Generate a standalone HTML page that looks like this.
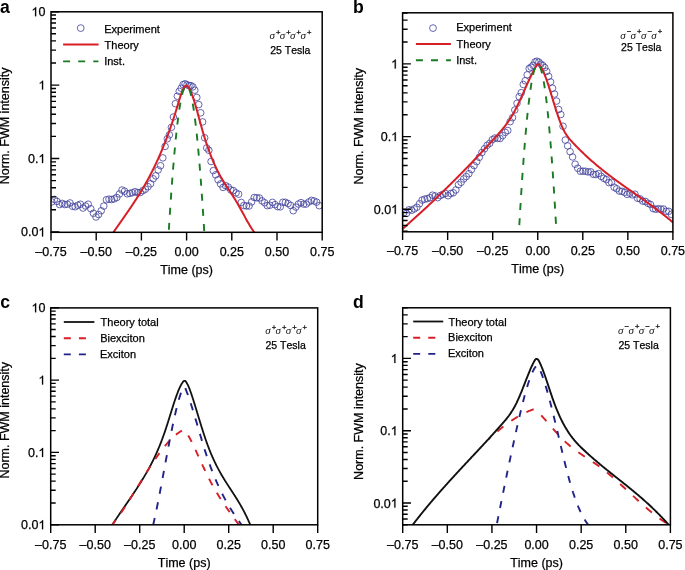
<!DOCTYPE html><html><head><meta charset="utf-8"><style>
html,body{margin:0;padding:0;background:#fff;}svg{display:block;}text{font-kerning:none;}
.t{font-family:"Liberation Sans", sans-serif;font-size:12.5px;fill:#000;stroke:#000;stroke-width:0.25px;}
.lg{font-family:"Liberation Sans", sans-serif;font-size:11px;fill:#000;stroke:#000;stroke-width:0.25px;}
.ts{font-family:"Liberation Sans", sans-serif;font-size:10.5px;fill:#000;stroke:#000;stroke-width:0.25px;}
.pl{font-family:"Liberation Sans", sans-serif;font-size:17.6px;font-weight:bold;fill:#000;}
.sg{font-family:"Liberation Serif", serif;font-style:italic;font-size:11px;fill:#111;}
.sp{font-family:"Liberation Sans", sans-serif;font-size:7.6px;fill:#000;stroke:#000;stroke-width:0.25px;}
</style></head><body>
<svg style="will-change:transform" width="685" height="570" viewBox="0 0 685 570">
<rect width="685" height="570" fill="#fff"/>
<defs>
<clipPath id="cla"><rect x="51" y="11.8" width="271.2" height="220.5"/></clipPath>
<clipPath id="clb"><rect x="402.6" y="12.8" width="270.3" height="219"/></clipPath>
<clipPath id="clc"><rect x="50.7" y="307.9" width="267" height="216.9"/></clipPath>
<clipPath id="cld"><rect x="402.7" y="307.8" width="267.7" height="217"/></clipPath>
<clipPath id="cldr"><rect x="489" y="300" width="200" height="230"/></clipPath>
</defs>
<g clip-path="url(#cla)">
<g fill="none" stroke="#40409a" stroke-width="0.8"><circle cx="51.8" cy="201.9" r="3.3"/><circle cx="54.4" cy="199.41" r="3.3"/><circle cx="57" cy="201.38" r="3.3"/><circle cx="59.6" cy="204.57" r="3.3"/><circle cx="62.2" cy="203.37" r="3.3"/><circle cx="64.8" cy="204.53" r="3.3"/><circle cx="67.4" cy="204.27" r="3.3"/><circle cx="70" cy="202.95" r="3.3"/><circle cx="72.6" cy="206.3" r="3.3"/><circle cx="75.2" cy="206.79" r="3.3"/><circle cx="77.8" cy="205.23" r="3.3"/><circle cx="80.4" cy="204.2" r="3.3"/><circle cx="83" cy="208.02" r="3.3"/><circle cx="85.6" cy="206.01" r="3.3"/><circle cx="88.2" cy="204.19" r="3.3"/><circle cx="90.8" cy="208.74" r="3.3"/><circle cx="93.4" cy="213.24" r="3.3"/><circle cx="96" cy="217" r="3.3"/><circle cx="98.6" cy="214.53" r="3.3"/><circle cx="101.2" cy="210.78" r="3.3"/><circle cx="103.8" cy="206.09" r="3.3"/><circle cx="106.4" cy="199.77" r="3.3"/><circle cx="109" cy="199.14" r="3.3"/><circle cx="111.6" cy="199.54" r="3.3"/><circle cx="114.2" cy="198.88" r="3.3"/><circle cx="116.8" cy="197.52" r="3.3"/><circle cx="119.4" cy="194" r="3.3"/><circle cx="122" cy="190.02" r="3.3"/><circle cx="124.6" cy="191.18" r="3.3"/><circle cx="127.2" cy="193.8" r="3.3"/><circle cx="129.8" cy="193.37" r="3.3"/><circle cx="132.4" cy="192.74" r="3.3"/><circle cx="135" cy="191.71" r="3.3"/><circle cx="137.6" cy="192.57" r="3.3"/><circle cx="140.2" cy="192.57" r="3.3"/><circle cx="142.8" cy="190.67" r="3.3"/><circle cx="145.4" cy="189.21" r="3.3"/><circle cx="148" cy="186.67" r="3.3"/><circle cx="150.6" cy="183.72" r="3.3"/><circle cx="153.2" cy="178.8" r="3.3"/><circle cx="155.72" cy="175.86" r="3.3"/><circle cx="158.17" cy="169.95" r="3.3"/><circle cx="160.55" cy="165.71" r="3.3"/><circle cx="162.85" cy="157.87" r="3.3"/><circle cx="165.09" cy="146.43" r="3.3"/><circle cx="167.26" cy="138.82" r="3.3"/><circle cx="169.37" cy="134.85" r="3.3"/><circle cx="171.42" cy="127.35" r="3.3"/><circle cx="173.4" cy="117.01" r="3.3"/><circle cx="175.35" cy="103.67" r="3.3"/><circle cx="177.3" cy="96.22" r="3.3"/><circle cx="179.25" cy="91.33" r="3.3"/><circle cx="181.2" cy="88.21" r="3.3"/><circle cx="183.15" cy="84.57" r="3.3"/><circle cx="185.1" cy="83.77" r="3.3"/><circle cx="187.05" cy="84.73" r="3.3"/><circle cx="189" cy="85.59" r="3.3"/><circle cx="190.95" cy="85.6" r="3.3"/><circle cx="192.9" cy="86.86" r="3.3"/><circle cx="194.85" cy="90.18" r="3.3"/><circle cx="196.8" cy="97.39" r="3.3"/><circle cx="198.75" cy="104.61" r="3.3"/><circle cx="200.7" cy="112.81" r="3.3"/><circle cx="202.65" cy="121.92" r="3.3"/><circle cx="204.67" cy="137.8" r="3.3"/><circle cx="206.74" cy="147.95" r="3.3"/><circle cx="208.87" cy="150.28" r="3.3"/><circle cx="211.06" cy="161.49" r="3.3"/><circle cx="213.32" cy="170.63" r="3.3"/><circle cx="215.65" cy="174.82" r="3.3"/><circle cx="218.04" cy="179.78" r="3.3"/><circle cx="220.51" cy="183.92" r="3.3"/><circle cx="223.04" cy="187.42" r="3.3"/><circle cx="225.64" cy="185.69" r="3.3"/><circle cx="228.24" cy="187.07" r="3.3"/><circle cx="230.84" cy="189.95" r="3.3"/><circle cx="233.44" cy="190.61" r="3.3"/><circle cx="236.04" cy="192.85" r="3.3"/><circle cx="238.64" cy="194.18" r="3.3"/><circle cx="241.24" cy="202.45" r="3.3"/><circle cx="243.84" cy="205.56" r="3.3"/><circle cx="246.44" cy="205.96" r="3.3"/><circle cx="249.04" cy="206" r="3.3"/><circle cx="251.64" cy="201.87" r="3.3"/><circle cx="254.24" cy="197.52" r="3.3"/><circle cx="256.84" cy="197.77" r="3.3"/><circle cx="259.44" cy="198.01" r="3.3"/><circle cx="262.04" cy="200.88" r="3.3"/><circle cx="264.64" cy="202.75" r="3.3"/><circle cx="267.24" cy="205.65" r="3.3"/><circle cx="269.84" cy="205.24" r="3.3"/><circle cx="272.44" cy="202.36" r="3.3"/><circle cx="275.04" cy="204.64" r="3.3"/><circle cx="277.64" cy="206.68" r="3.3"/><circle cx="280.24" cy="206.9" r="3.3"/><circle cx="282.84" cy="202.26" r="3.3"/><circle cx="285.44" cy="202.3" r="3.3"/><circle cx="288.04" cy="203.55" r="3.3"/><circle cx="290.64" cy="205.45" r="3.3"/><circle cx="293.24" cy="210.71" r="3.3"/><circle cx="295.84" cy="207.1" r="3.3"/><circle cx="298.44" cy="204.03" r="3.3"/><circle cx="301.04" cy="202.6" r="3.3"/><circle cx="303.64" cy="204.11" r="3.3"/><circle cx="306.24" cy="204.07" r="3.3"/><circle cx="308.84" cy="201.96" r="3.3"/><circle cx="311.44" cy="200.39" r="3.3"/><circle cx="314.04" cy="200.95" r="3.3"/><circle cx="316.64" cy="202.14" r="3.3"/><circle cx="319.24" cy="205.69" r="3.3"/></g>
<path d="M111.85 234.71 L112.15 234.26 L112.45 233.82 L112.75 233.37 L113.05 232.93 L113.35 232.49 L113.65 232.05 L113.95 231.61 L114.25 231.17 L114.55 230.73 L114.85 230.30 L115.15 229.86 L115.45 229.42 L115.75 228.99 L116.05 228.55 L116.35 228.12 L116.65 227.69 L116.95 227.26 L117.25 226.82 L117.55 226.39 L117.85 225.96 L118.15 225.53 L118.45 225.10 L118.75 224.67 L119.05 224.24 L119.35 223.81 L119.64 223.38 L119.94 222.95 L120.24 222.52 L120.54 222.09 L120.84 221.67 L121.14 221.24 L121.44 220.81 L121.74 220.38 L122.04 219.95 L122.34 219.52 L122.64 219.10 L122.94 218.67 L123.24 218.24 L123.54 217.81 L123.84 217.38 L124.14 216.95 L124.44 216.52 L124.74 216.09 L125.04 215.66 L125.34 215.23 L125.64 214.80 L125.94 214.37 L126.24 213.94 L126.54 213.50 L126.84 213.07 L127.14 212.64 L127.44 212.20 L127.74 211.77 L128.04 211.34 L128.34 210.90 L128.64 210.46 L128.94 210.03 L129.24 209.59 L129.54 209.15 L129.84 208.71 L130.14 208.27 L130.44 207.83 L130.74 207.38 L131.04 206.94 L131.34 206.50 L131.64 206.05 L131.94 205.60 L132.24 205.16 L132.54 204.71 L132.84 204.26 L133.14 203.81 L133.44 203.35 L133.74 202.90 L134.04 202.45 L134.34 201.99 L134.63 201.53 L134.93 201.07 L135.23 200.61 L135.53 200.15 L135.83 199.69 L136.13 199.22 L136.43 198.76 L136.73 198.29 L137.03 197.82 L137.33 197.35 L137.63 196.88 L137.93 196.40 L138.23 195.92 L138.53 195.45 L138.83 194.97 L139.13 194.48 L139.43 194.00 L139.73 193.52 L140.03 193.03 L140.33 192.54 L140.63 192.05 L140.93 191.55 L141.23 191.06 L141.53 190.56 L141.83 190.06 L142.13 189.56 L142.43 189.06 L142.73 188.55 L143.03 188.04 L143.33 187.53 L143.63 187.02 L143.93 186.50 L144.23 185.98 L144.53 185.46 L144.83 184.94 L145.13 184.42 L145.43 183.89 L145.73 183.36 L146.03 182.83 L146.33 182.29 L146.63 181.75 L146.93 181.21 L147.23 180.67 L147.53 180.12 L147.83 179.57 L148.13 179.02 L148.43 178.47 L148.73 177.91 L149.03 177.35 L149.32 176.79 L149.62 176.22 L149.92 175.65 L150.22 175.08 L150.52 174.50 L150.82 173.93 L151.12 173.34 L151.42 172.76 L151.72 172.17 L152.02 171.58 L152.32 170.99 L152.62 170.39 L152.92 169.79 L153.22 169.19 L153.52 168.58 L153.82 167.97 L154.12 167.35 L154.42 166.73 L154.72 166.11 L155.02 165.49 L155.32 164.86 L155.62 164.23 L155.92 163.59 L156.22 162.95 L156.52 162.31 L156.82 161.66 L157.12 161.01 L157.42 160.36 L157.72 159.70 L158.02 159.04 L158.32 158.37 L158.62 157.70 L158.92 157.03 L159.22 156.35 L159.52 155.67 L159.82 154.98 L160.12 154.29 L160.42 153.60 L160.72 152.90 L161.02 152.20 L161.32 151.49 L161.62 150.78 L161.92 150.07 L162.22 149.35 L162.52 148.62 L162.82 147.90 L163.12 147.16 L163.42 146.43 L163.72 145.69 L164.02 144.94 L164.31 144.19 L164.61 143.43 L164.91 142.67 L165.21 141.91 L165.51 141.14 L165.81 140.36 L166.11 139.58 L166.41 138.80 L166.71 138.01 L167.01 137.22 L167.31 136.42 L167.61 135.61 L167.91 134.80 L168.21 133.99 L168.51 133.17 L168.81 132.34 L169.11 131.51 L169.41 130.67 L169.71 129.83 L170.01 128.98 L170.31 128.13 L170.61 127.27 L170.91 126.41 L171.21 125.53 L171.51 124.66 L171.81 123.78 L172.11 122.89 L172.41 121.99 L172.71 121.09 L173.01 120.19 L173.31 119.28 L173.61 118.36 L173.91 117.44 L174.21 116.50 L174.51 115.57 L174.81 114.63 L175.11 113.68 L175.41 112.72 L175.71 111.76 L176.01 110.79 L176.31 109.81 L176.61 108.83 L176.91 107.84 L177.21 106.85 L177.51 105.85 L177.81 104.85 L178.11 103.85 L178.41 102.85 L178.71 101.86 L179.01 100.87 L179.30 99.89 L179.60 98.92 L179.90 97.97 L180.20 97.03 L180.50 96.11 L180.80 95.21 L181.10 94.34 L181.40 93.49 L181.70 92.66 L182.00 91.87 L182.30 91.10 L182.60 90.38 L182.90 89.68 L183.20 89.03 L183.50 88.63 L183.80 88.07 L184.10 87.55 L184.40 87.08 L184.70 86.67 L185.00 86.30 L185.30 86.01 L185.60 85.79 L185.90 85.64 L186.20 85.57 L186.50 85.56 L186.78 85.63 L187.06 85.76 L187.34 85.95 L187.62 86.20 L187.89 86.52 L188.17 86.89 L188.45 87.29 L188.73 87.72 L189.01 88.18 L189.29 88.67 L189.57 89.05 L189.85 89.60 L190.12 90.18 L190.40 90.79 L190.68 91.42 L190.96 92.07 L191.24 92.75 L191.52 93.45 L191.80 94.18 L192.08 94.92 L192.36 95.69 L192.63 96.47 L192.91 97.28 L193.19 98.10 L193.47 98.94 L193.75 99.80 L194.03 100.67 L194.31 101.56 L194.59 102.47 L194.86 103.38 L195.14 104.31 L195.42 105.25 L195.70 106.20 L195.98 107.16 L196.26 108.13 L196.54 109.11 L196.82 110.10 L197.10 111.09 L197.37 112.09 L197.65 113.10 L197.93 114.11 L198.21 115.12 L198.49 116.14 L198.77 117.16 L199.05 118.18 L199.33 119.20 L199.60 120.22 L199.88 121.24 L200.16 122.26 L200.44 123.27 L200.72 124.29 L201.00 125.29 L201.28 126.29 L201.56 127.29 L201.84 128.28 L202.11 129.26 L202.39 130.24 L202.67 131.20 L202.95 132.16 L203.23 133.10 L203.51 134.04 L203.79 134.97 L204.07 135.89 L204.34 136.80 L204.62 137.70 L204.90 138.59 L205.18 139.48 L205.46 140.35 L205.74 141.22 L206.02 142.08 L206.30 142.93 L206.58 143.77 L206.85 144.61 L207.13 145.43 L207.41 146.25 L207.69 147.06 L207.97 147.86 L208.25 148.65 L208.53 149.44 L208.81 150.21 L209.08 150.98 L209.36 151.74 L209.64 152.50 L209.92 153.24 L210.20 153.98 L210.48 154.71 L210.76 155.43 L211.04 156.15 L211.32 156.85 L211.59 157.55 L211.87 158.25 L212.15 158.93 L212.43 159.61 L212.71 160.28 L212.99 160.94 L213.27 161.60 L213.55 162.25 L213.82 162.89 L214.10 163.53 L214.38 164.16 L214.66 164.78 L214.94 165.39 L215.22 166.00 L215.50 166.60 L215.78 167.20 L216.06 167.79 L216.33 168.37 L216.61 168.94 L216.89 169.51 L217.17 170.08 L217.45 170.63 L217.73 171.18 L218.01 171.73 L218.29 172.27 L218.56 172.80 L218.84 173.33 L219.12 173.85 L219.40 174.37 L219.68 174.88 L219.96 175.39 L220.24 175.89 L220.52 176.39 L220.79 176.88 L221.07 177.37 L221.35 177.86 L221.63 178.34 L221.91 178.81 L222.19 179.29 L222.47 179.76 L222.75 180.22 L223.03 180.69 L223.30 181.14 L223.58 181.60 L223.86 182.05 L224.14 182.51 L224.42 182.95 L224.70 183.40 L224.98 183.84 L225.26 184.28 L225.53 184.72 L225.81 185.16 L226.09 185.59 L226.37 186.02 L226.65 186.45 L226.93 186.88 L227.21 187.31 L227.49 187.74 L227.77 188.17 L228.04 188.59 L228.32 189.02 L228.60 189.44 L228.88 189.86 L229.16 190.29 L229.44 190.71 L229.72 191.13 L230.00 191.56 L230.27 191.98 L230.55 192.40 L230.83 192.83 L231.11 193.25 L231.39 193.68 L231.67 194.10 L231.95 194.53 L232.23 194.96 L232.51 195.39 L232.78 195.82 L233.06 196.25 L233.34 196.69 L233.62 197.12 L233.90 197.56 L234.18 198.00 L234.46 198.44 L234.74 198.89 L235.01 199.34 L235.29 199.79 L235.57 200.24 L235.85 200.69 L236.13 201.15 L236.41 201.62 L236.69 202.08 L236.97 202.55 L237.25 203.02 L237.52 203.50 L237.80 203.98 L238.08 204.46 L238.36 204.95 L238.64 205.44 L238.92 205.93 L239.20 206.43 L239.48 206.93 L239.75 207.43 L240.03 207.93 L240.31 208.43 L240.59 208.94 L240.87 209.45 L241.15 209.95 L241.43 210.46 L241.71 210.98 L241.99 211.49 L242.26 212.00 L242.54 212.51 L242.82 213.03 L243.10 213.54 L243.38 214.06 L243.66 214.57 L243.94 215.08 L244.22 215.60 L244.49 216.11 L244.77 216.62 L245.05 217.13 L245.33 217.64 L245.61 218.15 L245.89 218.66 L246.17 219.16 L246.45 219.66 L246.73 220.17 L247.00 220.66 L247.28 221.16 L247.56 221.65 L247.84 222.14 L248.12 222.63 L248.40 223.12 L248.68 223.60 L248.96 224.07 L249.23 224.55 L249.51 225.02 L249.79 225.49 L250.07 225.95 L250.35 226.40 L250.63 226.86 L250.91 227.31 L251.19 227.75 L251.47 228.19 L251.74 228.62 L252.02 229.05 L252.30 229.47 L252.58 229.89 L252.86 230.30 L253.14 230.70 L253.42 231.10 L253.70 231.49 L253.97 231.87 L254.25 232.25 L254.53 232.62 L254.81 232.99 L255.09 233.34 L255.37 233.69 L255.65 234.03 L255.93 234.36" fill="none" stroke="#d61f26" stroke-width="2"/>
<path d="M168.3 238.96C168.45 236.47 168.91 228.87 169.21 224.01C169.51 219.15 169.82 214.43 170.12 209.82C170.42 205.22 170.73 200.75 171.03 196.41C171.33 192.06 171.64 187.84 171.94 183.75C172.24 179.66 172.55 175.7 172.85 171.87C173.15 168.03 173.46 164.33 173.76 160.75C174.06 157.17 174.37 153.72 174.67 150.4C174.97 147.07 175.28 143.88 175.58 140.81C175.88 137.74 176.19 134.8 176.49 131.99C176.79 129.18 177.1 126.5 177.4 123.94C177.7 121.38 178.01 118.96 178.31 116.66C178.61 114.36 178.92 112.18 179.22 110.14C179.52 108.09 179.83 106.18 180.13 104.39C180.43 102.6 180.74 100.94 181.04 99.4C181.34 97.87 181.65 96.46 181.95 95.19C182.25 93.91 182.56 92.76 182.86 91.73C183.16 90.71 183.47 89.82 183.77 89.05C184.07 88.28 184.38 87.64 184.68 87.13C184.98 86.62 185.29 86.24 185.59 85.98C185.89 85.73 186.2 85.6 186.5 85.6C186.8 85.6 187.11 85.73 187.41 85.98C187.71 86.24 188.02 86.62 188.32 87.13C188.62 87.64 188.93 88.28 189.23 89.05C189.53 89.82 189.84 90.71 190.14 91.73C190.44 92.76 190.75 93.91 191.05 95.19C191.35 96.46 191.66 97.87 191.96 99.4C192.26 100.94 192.57 102.6 192.87 104.39C193.17 106.18 193.48 108.09 193.78 110.14C194.08 112.18 194.39 114.36 194.69 116.66C194.99 118.96 195.3 121.38 195.6 123.94C195.9 126.5 196.21 129.18 196.51 131.99C196.81 134.8 197.12 137.74 197.42 140.81C197.72 143.88 198.03 147.07 198.33 150.4C198.63 153.72 198.94 157.17 199.24 160.75C199.54 164.33 199.85 168.03 200.15 171.87C200.45 175.7 200.76 179.66 201.06 183.75C201.36 187.84 201.67 192.06 201.97 196.41C202.27 200.75 202.58 205.22 202.88 209.82C203.18 214.43 203.49 219.15 203.79 224.01C204.09 228.87 204.55 236.47 204.7 238.96" fill="none" stroke="#187a22" stroke-width="1.9" stroke-dasharray="7 8.1" stroke-dashoffset="6.0"/>
</g>
<rect x="51" y="11.8" width="271.2" height="220.5" fill="none" stroke="#000" stroke-width="1.5"/>
<path d="M51 231.9H59.3M51 209.8H56M51 196.88H56M51 187.71H56M51 180.6H56M51 174.78H56M51 169.87H56M51 165.61H56M51 161.86H56M51 158.5H59.3M51 136.4H56M51 123.48H56M51 114.31H56M51 107.2H56M51 101.38H56M51 96.47H56M51 92.21H56M51 88.46H56M51 85.1H59.3M51 63H56M51 50.08H56M51 40.91H56M51 33.8H56M51 27.98H56M51 23.07H56M51 18.81H56M51 15.06H56M51 11.7H59.3" stroke="#000" stroke-width="1.4" fill="none"/>
<path d="M51 232.3V240.5M96.2 232.3V240.5M141.4 232.3V240.5M186.6 232.3V240.5M231.8 232.3V240.5M277 232.3V240.5M322.2 232.3V240.5" stroke="#000" stroke-width="1.4" fill="none"/>
<text x="51" y="255.5" text-anchor="middle" class="t">–0.75</text>
<text x="96.2" y="255.5" text-anchor="middle" class="t">–0.50</text>
<text x="141.4" y="255.5" text-anchor="middle" class="t">–0.25</text>
<text x="186.6" y="255.5" text-anchor="middle" class="t">0.00</text>
<text x="231.8" y="255.5" text-anchor="middle" class="t">0.25</text>
<text x="277" y="255.5" text-anchor="middle" class="t">0.50</text>
<text x="322.2" y="255.5" text-anchor="middle" class="t">0.75</text>
<text x="186.6" y="273.8" text-anchor="middle" class="t">Time (ps)</text>
<path d="M0.3726 0L0.2847 0L0.2847 0.5601L0.109 0.4595L0.109 0.5444C0.19 0.585 0.27 0.64 0.3076 0.716L0.3726 0.716Z" transform="translate(31.5 16.2) scale(12.5 -12.5)" fill="#000" stroke="#000" stroke-width="0.02"/>
<text x="38.45" y="16.2" class="t">0</text>
<path d="M0.3726 0L0.2847 0L0.2847 0.5601L0.109 0.4595L0.109 0.5444C0.19 0.585 0.27 0.64 0.3076 0.716L0.3726 0.716Z" transform="translate(38.45 89.6) scale(12.5 -12.5)" fill="#000" stroke="#000" stroke-width="0.02"/>
<text x="28.02" y="163" class="t">0.</text>
<path d="M0.3726 0L0.2847 0L0.2847 0.5601L0.109 0.4595L0.109 0.5444C0.19 0.585 0.27 0.64 0.3076 0.716L0.3726 0.716Z" transform="translate(38.45 163) scale(12.5 -12.5)" fill="#000" stroke="#000" stroke-width="0.02"/>
<text x="21.07" y="236.4" class="t">0.0</text>
<path d="M0.3726 0L0.2847 0L0.2847 0.5601L0.109 0.4595L0.109 0.5444C0.19 0.585 0.27 0.64 0.3076 0.716L0.3726 0.716Z" transform="translate(38.45 236.4) scale(12.5 -12.5)" fill="#000" stroke="#000" stroke-width="0.02"/>
<text transform="translate(9.2 184.2) rotate(-90)" class="t">Norm. FWM intensity</text>
<text x="0" y="13.3" class="pl">a</text>
<circle cx="80.7" cy="28.1" r="3.4" fill="none" stroke="#40409a" stroke-width="0.8"/>
<path d="M63.1 44.4H98.6" stroke="#d61f26" stroke-width="2"/>
<path d="M63.1 61.4H98.4" stroke="#187a22" stroke-width="1.9" stroke-dasharray="7 8.1"/>
<text x="104.2" y="33" class="lg">Experiment</text>
<text x="104.6" y="48.8" class="lg">Theory</text>
<text x="104.2" y="65.4" class="lg">Inst.</text>
<text x="269.5" y="38.8" class="sg">σ</text>
<text x="276" y="34.6" class="sp">+</text>
<text x="279.8" y="38.8" class="sg">σ</text>
<text x="286.3" y="34.6" class="sp">+</text>
<text x="290.1" y="38.8" class="sg">σ</text>
<text x="296.6" y="34.6" class="sp">+</text>
<text x="300.4" y="38.8" class="sg">σ</text>
<text x="306.9" y="34.6" class="sp">+</text>
<text x="270.2" y="54.2" class="ts">25 Tesla</text>
<g clip-path="url(#clb)">
<g fill="none" stroke="#40409a" stroke-width="0.8"><circle cx="403.9" cy="212.4" r="3.3"/><circle cx="406.5" cy="213.41" r="3.3"/><circle cx="409.1" cy="209.77" r="3.3"/><circle cx="411.7" cy="210.27" r="3.3"/><circle cx="414.3" cy="208.95" r="3.3"/><circle cx="416.9" cy="207.22" r="3.3"/><circle cx="419.5" cy="203.73" r="3.3"/><circle cx="422.1" cy="200.06" r="3.3"/><circle cx="424.7" cy="199.14" r="3.3"/><circle cx="427.3" cy="198.68" r="3.3"/><circle cx="429.9" cy="197.67" r="3.3"/><circle cx="432.5" cy="195.17" r="3.3"/><circle cx="435.1" cy="195.98" r="3.3"/><circle cx="437.7" cy="197.64" r="3.3"/><circle cx="440.3" cy="195.57" r="3.3"/><circle cx="442.9" cy="194.35" r="3.3"/><circle cx="445.5" cy="193.46" r="3.3"/><circle cx="448.1" cy="195.71" r="3.3"/><circle cx="450.7" cy="193.5" r="3.3"/><circle cx="453.3" cy="192.78" r="3.3"/><circle cx="455.9" cy="189.92" r="3.3"/><circle cx="458.5" cy="184.68" r="3.3"/><circle cx="461.1" cy="182.33" r="3.3"/><circle cx="463.7" cy="178.94" r="3.3"/><circle cx="466.3" cy="176.55" r="3.3"/><circle cx="468.9" cy="173.7" r="3.3"/><circle cx="471.5" cy="169.53" r="3.3"/><circle cx="474.1" cy="165.61" r="3.3"/><circle cx="476.7" cy="161.67" r="3.3"/><circle cx="479.3" cy="157.33" r="3.3"/><circle cx="481.9" cy="152.52" r="3.3"/><circle cx="484.5" cy="148.77" r="3.3"/><circle cx="487.1" cy="145.34" r="3.3"/><circle cx="489.7" cy="143.33" r="3.3"/><circle cx="492.3" cy="139.68" r="3.3"/><circle cx="494.9" cy="138.04" r="3.3"/><circle cx="497.5" cy="138.41" r="3.3"/><circle cx="500.1" cy="138.51" r="3.3"/><circle cx="502.7" cy="135.62" r="3.3"/><circle cx="505.27" cy="132.41" r="3.3"/><circle cx="507.76" cy="130.49" r="3.3"/><circle cx="510.19" cy="121.66" r="3.3"/><circle cx="512.54" cy="117.68" r="3.3"/><circle cx="514.81" cy="109.99" r="3.3"/><circle cx="517.03" cy="103.29" r="3.3"/><circle cx="519.17" cy="96.67" r="3.3"/><circle cx="521.26" cy="92.7" r="3.3"/><circle cx="523.28" cy="84.46" r="3.3"/><circle cx="525.24" cy="80.75" r="3.3"/><circle cx="527.19" cy="74.86" r="3.3"/><circle cx="529.14" cy="68.51" r="3.3"/><circle cx="531.09" cy="67.18" r="3.3"/><circle cx="533.04" cy="65.29" r="3.3"/><circle cx="534.99" cy="61.92" r="3.3"/><circle cx="536.94" cy="61.24" r="3.3"/><circle cx="538.89" cy="62.14" r="3.3"/><circle cx="540.84" cy="64.14" r="3.3"/><circle cx="542.79" cy="65.51" r="3.3"/><circle cx="544.74" cy="67.56" r="3.3"/><circle cx="546.69" cy="71.39" r="3.3"/><circle cx="548.64" cy="76.4" r="3.3"/><circle cx="550.59" cy="81.93" r="3.3"/><circle cx="552.54" cy="88.24" r="3.3"/><circle cx="554.52" cy="94.04" r="3.3"/><circle cx="556.55" cy="101.05" r="3.3"/><circle cx="558.64" cy="109.49" r="3.3"/><circle cx="560.8" cy="114.55" r="3.3"/><circle cx="563.02" cy="126.23" r="3.3"/><circle cx="565.3" cy="140.06" r="3.3"/><circle cx="567.65" cy="145.87" r="3.3"/><circle cx="570.08" cy="151.71" r="3.3"/><circle cx="572.57" cy="156.96" r="3.3"/><circle cx="575.14" cy="164.19" r="3.3"/><circle cx="577.74" cy="168.22" r="3.3"/><circle cx="580.34" cy="171.24" r="3.3"/><circle cx="582.94" cy="171.14" r="3.3"/><circle cx="585.54" cy="171.26" r="3.3"/><circle cx="588.14" cy="171.97" r="3.3"/><circle cx="590.74" cy="171.8" r="3.3"/><circle cx="593.34" cy="174.37" r="3.3"/><circle cx="595.94" cy="174.51" r="3.3"/><circle cx="598.54" cy="173.56" r="3.3"/><circle cx="601.14" cy="176.31" r="3.3"/><circle cx="603.74" cy="178.28" r="3.3"/><circle cx="606.34" cy="179.59" r="3.3"/><circle cx="608.94" cy="182.65" r="3.3"/><circle cx="611.54" cy="182.38" r="3.3"/><circle cx="614.14" cy="187.2" r="3.3"/><circle cx="616.74" cy="188.76" r="3.3"/><circle cx="619.34" cy="191.08" r="3.3"/><circle cx="621.94" cy="191.3" r="3.3"/><circle cx="624.54" cy="192.35" r="3.3"/><circle cx="627.14" cy="194.38" r="3.3"/><circle cx="629.74" cy="193.22" r="3.3"/><circle cx="632.34" cy="194.87" r="3.3"/><circle cx="634.94" cy="194.17" r="3.3"/><circle cx="637.54" cy="198.25" r="3.3"/><circle cx="640.14" cy="198.85" r="3.3"/><circle cx="642.74" cy="201.11" r="3.3"/><circle cx="645.34" cy="201.43" r="3.3"/><circle cx="647.94" cy="203.29" r="3.3"/><circle cx="650.54" cy="204.47" r="3.3"/><circle cx="653.14" cy="208.55" r="3.3"/><circle cx="655.74" cy="209.3" r="3.3"/><circle cx="658.34" cy="208.69" r="3.3"/><circle cx="660.94" cy="209.14" r="3.3"/><circle cx="663.54" cy="209.02" r="3.3"/><circle cx="666.14" cy="211.22" r="3.3"/><circle cx="668.74" cy="211.3" r="3.3"/><circle cx="671.34" cy="214.37" r="3.3"/></g>
<path d="M400.36 230.85 L400.91 230.37 L401.47 229.88 L402.02 229.40 L402.57 228.92 L403.12 228.43 L403.68 227.95 L404.23 227.46 L404.78 226.97 L405.33 226.49 L405.88 226.00 L406.44 225.51 L406.99 225.02 L407.54 224.53 L408.09 224.04 L408.65 223.55 L409.20 223.06 L409.75 222.56 L410.30 222.07 L410.86 221.58 L411.41 221.08 L411.96 220.58 L412.51 220.09 L413.07 219.59 L413.62 219.09 L414.17 218.60 L414.72 218.10 L415.27 217.60 L415.83 217.10 L416.38 216.59 L416.93 216.09 L417.48 215.59 L418.04 215.09 L418.59 214.58 L419.14 214.08 L419.69 213.57 L420.25 213.07 L420.80 212.56 L421.35 212.05 L421.90 211.54 L422.46 211.03 L423.01 210.52 L423.56 210.01 L424.11 209.50 L424.66 208.99 L425.22 208.48 L425.77 207.96 L426.32 207.45 L426.87 206.93 L427.43 206.42 L427.98 205.90 L428.53 205.39 L429.08 204.87 L429.64 204.35 L430.19 203.83 L430.74 203.31 L431.29 202.79 L431.85 202.27 L432.40 201.75 L432.95 201.22 L433.50 200.70 L434.06 200.18 L434.61 199.65 L435.16 199.12 L435.71 198.60 L436.26 198.07 L436.82 197.54 L437.37 197.01 L437.92 196.48 L438.47 195.95 L439.03 195.42 L439.58 194.89 L440.13 194.36 L440.68 193.83 L441.24 193.29 L441.79 192.76 L442.34 192.22 L442.89 191.69 L443.45 191.15 L444.00 190.61 L444.55 190.07 L445.10 189.53 L445.65 189.00 L446.21 188.45 L446.76 187.91 L447.31 187.37 L447.86 186.83 L448.42 186.28 L448.97 185.74 L449.52 185.20 L450.07 184.65 L450.63 184.10 L451.18 183.56 L451.73 183.01 L452.28 182.46 L452.84 181.91 L453.39 181.36 L453.94 180.81 L454.49 180.26 L455.05 179.70 L455.60 179.15 L456.15 178.60 L456.70 178.04 L457.25 177.49 L457.81 176.93 L458.36 176.37 L458.91 175.81 L459.46 175.26 L460.02 174.70 L460.57 174.14 L461.12 173.57 L461.67 173.01 L462.23 172.45 L462.78 171.89 L463.33 171.32 L463.88 170.76 L464.44 170.19 L464.99 169.63 L465.54 169.06 L466.09 168.49 L466.64 167.92 L467.20 167.35 L467.75 166.78 L468.30 166.21 L468.85 165.64 L469.41 165.07 L469.96 164.49 L470.51 163.92 L471.06 163.35 L471.62 162.77 L472.17 162.19 L472.72 161.62 L473.27 161.04 L473.83 160.46 L474.38 159.88 L474.93 159.30 L475.48 158.72 L476.04 158.14 L476.59 157.55 L477.14 156.97 L477.69 156.39 L478.24 155.80 L478.80 155.21 L479.35 154.63 L479.90 154.04 L480.45 153.45 L481.01 152.86 L481.56 152.27 L482.11 151.68 L482.66 151.09 L483.22 150.50 L483.77 149.91 L484.32 149.31 L484.87 148.72 L485.43 148.12 L485.98 147.53 L486.53 146.93 L487.08 146.33 L487.63 145.73 L488.19 145.13 L488.74 144.53 L489.29 143.93 L489.84 143.33 L490.40 142.73 L490.95 142.12 L491.50 141.52 L492.05 140.92 L492.61 140.31 L493.16 139.70 L493.71 139.10 L494.26 138.49 L494.82 137.88 L495.37 137.27 L495.92 136.66 L496.47 136.05 L497.02 135.43 L497.58 134.82 L498.13 134.20 L498.68 133.58 L499.23 132.96 L499.79 132.33 L500.34 131.69 L500.89 131.05 L501.44 130.41 L502.00 129.75 L502.55 129.09 L503.10 128.42 L503.65 127.74 L504.21 127.04 L504.76 126.34 L505.31 125.62 L505.86 124.89 L506.42 124.15 L506.97 123.40 L507.52 122.63 L508.07 121.84 L508.62 121.04 L509.18 120.22 L509.73 119.38 L510.28 118.52 L510.83 117.65 L511.39 116.75 L511.94 115.83 L512.49 114.90 L513.04 113.94 L513.60 112.95 L514.15 111.95 L514.70 110.92 L515.25 109.88 L515.81 108.82 L516.36 107.73 L516.91 106.63 L517.46 105.52 L518.01 104.39 L518.57 103.24 L519.12 102.08 L519.67 100.91 L520.22 99.72 L520.78 98.53 L521.33 97.32 L521.88 96.10 L522.43 94.88 L522.99 93.65 L523.54 92.41 L524.09 91.16 L524.64 89.92 L525.20 88.67 L525.75 87.42 L526.30 86.17 L526.85 84.93 L527.41 83.69 L527.96 82.46 L528.51 81.24 L529.06 80.03 L529.61 78.83 L530.17 77.64 L530.72 76.48 L531.27 75.32 L531.82 74.19 L532.38 73.08 L532.93 71.99 L533.48 70.93 L534.03 69.89 L534.59 68.88 L535.14 67.93 L535.69 66.98 L536.24 66.07 L536.80 65.19 L537.35 64.57 L537.90 64.24 L538.45 64.20 L539.00 64.47 L539.56 65.06 L540.11 65.75 L540.66 66.54 L541.21 67.34 L541.76 68.32 L542.31 69.38 L542.87 70.51 L543.42 71.73 L543.97 73.01 L544.52 74.37 L545.07 75.78 L545.63 77.25 L546.18 78.77 L546.73 80.34 L547.28 81.96 L547.83 83.61 L548.38 85.30 L548.94 87.03 L549.49 88.77 L550.04 90.54 L550.59 92.33 L551.14 94.13 L551.70 95.95 L552.25 97.76 L552.80 99.58 L553.35 101.39 L553.90 103.19 L554.46 104.99 L555.01 106.76 L555.56 108.51 L556.11 110.24 L556.66 111.95 L557.21 113.62 L557.77 115.26 L558.32 116.87 L558.87 118.44 L559.42 119.97 L559.97 121.45 L560.53 122.89 L561.08 124.28 L561.63 125.62 L562.18 126.91 L562.73 128.14 L563.28 129.31 L563.84 130.42 L564.39 131.47 L564.94 132.46 L565.49 133.40 L566.04 134.29 L566.60 135.13 L567.15 135.93 L567.70 136.69 L568.25 137.42 L568.80 138.11 L569.35 138.78 L569.91 139.43 L570.46 140.06 L571.01 140.67 L571.56 141.28 L572.11 141.87 L572.67 142.47 L573.22 143.06 L573.77 143.64 L574.32 144.22 L574.87 144.80 L575.42 145.38 L575.98 145.95 L576.53 146.52 L577.08 147.08 L577.63 147.64 L578.18 148.20 L578.74 148.75 L579.29 149.31 L579.84 149.85 L580.39 150.40 L580.94 150.94 L581.50 151.48 L582.05 152.01 L582.60 152.55 L583.15 153.07 L583.70 153.60 L584.25 154.12 L584.81 154.64 L585.36 155.16 L585.91 155.68 L586.46 156.19 L587.01 156.70 L587.57 157.20 L588.12 157.70 L588.67 158.20 L589.22 158.70 L589.77 159.20 L590.32 159.69 L590.88 160.18 L591.43 160.67 L591.98 161.15 L592.53 161.63 L593.08 162.11 L593.64 162.59 L594.19 163.07 L594.74 163.54 L595.29 164.01 L595.84 164.48 L596.39 164.94 L596.95 165.41 L597.50 165.87 L598.05 166.33 L598.60 166.78 L599.15 167.24 L599.71 167.69 L600.26 168.14 L600.81 168.59 L601.36 169.04 L601.91 169.48 L602.46 169.92 L603.02 170.36 L603.57 170.80 L604.12 171.24 L604.67 171.68 L605.22 172.11 L605.78 172.54 L606.33 172.97 L606.88 173.40 L607.43 173.83 L607.98 174.25 L608.54 174.68 L609.09 175.10 L609.64 175.52 L610.19 175.94 L610.74 176.36 L611.29 176.77 L611.85 177.19 L612.40 177.60 L612.95 178.02 L613.50 178.43 L614.05 178.84 L614.61 179.25 L615.16 179.66 L615.71 180.06 L616.26 180.47 L616.81 180.87 L617.36 181.28 L617.92 181.68 L618.47 182.08 L619.02 182.48 L619.57 182.88 L620.12 183.28 L620.68 183.68 L621.23 184.08 L621.78 184.47 L622.33 184.87 L622.88 185.26 L623.43 185.66 L623.99 186.05 L624.54 186.45 L625.09 186.84 L625.64 187.23 L626.19 187.62 L626.75 188.01 L627.30 188.40 L627.85 188.79 L628.40 189.18 L628.95 189.57 L629.50 189.96 L630.06 190.35 L630.61 190.74 L631.16 191.13 L631.71 191.52 L632.26 191.91 L632.82 192.30 L633.37 192.68 L633.92 193.07 L634.47 193.46 L635.02 193.85 L635.58 194.24 L636.13 194.62 L636.68 195.01 L637.23 195.40 L637.78 195.79 L638.33 196.18 L638.89 196.57 L639.44 196.96 L639.99 197.35 L640.54 197.74 L641.09 198.13 L641.65 198.52 L642.20 198.91 L642.75 199.30 L643.30 199.70 L643.85 200.09 L644.40 200.48 L644.96 200.88 L645.51 201.27 L646.06 201.67 L646.61 202.06 L647.16 202.46 L647.72 202.86 L648.27 203.26 L648.82 203.66 L649.37 204.06 L649.92 204.46 L650.47 204.86 L651.03 205.26 L651.58 205.67 L652.13 206.07 L652.68 206.48 L653.23 206.89 L653.79 207.30 L654.34 207.71 L654.89 208.12 L655.44 208.53 L655.99 208.94 L656.54 209.36 L657.10 209.77 L657.65 210.19 L658.20 210.61 L658.75 211.03 L659.30 211.45 L659.86 211.87 L660.41 212.30 L660.96 212.73 L661.51 213.15 L662.06 213.58 L662.62 214.01 L663.17 214.45 L663.72 214.88 L664.27 215.32 L664.82 215.76 L665.37 216.20 L665.93 216.64 L666.48 217.08 L667.03 217.53 L667.58 217.98 L668.13 218.43 L668.69 218.88 L669.24 219.33 L669.79 219.79 L670.34 220.25 L670.89 220.71 L671.44 221.17 L672.00 221.63 L672.55 222.10 L673.10 222.57 L673.65 223.04 L674.20 223.51 L674.76 223.99 L675.31 224.47" fill="none" stroke="#d61f26" stroke-width="2"/>
<path d="M519.3 225.17C519.45 222.55 519.92 214.56 520.22 209.46C520.53 204.36 520.84 199.4 521.15 194.56C521.46 189.73 521.77 185.04 522.07 180.47C522.38 175.91 522.69 171.48 523 167.19C523.31 162.9 523.62 158.74 523.92 154.71C524.23 150.69 524.54 146.8 524.85 143.05C525.16 139.29 525.47 135.67 525.77 132.19C526.08 128.7 526.39 125.35 526.7 122.13C527.01 118.92 527.32 115.83 527.62 112.89C527.93 109.94 528.24 107.13 528.55 104.45C528.86 101.77 529.17 99.23 529.47 96.82C529.78 94.41 530.09 92.14 530.4 90C530.71 87.86 531.02 85.85 531.32 83.98C531.63 82.11 531.94 80.38 532.25 78.78C532.56 77.18 532.87 75.71 533.17 74.38C533.48 73.05 533.79 71.85 534.1 70.79C534.41 69.73 534.72 68.8 535.02 68C535.33 67.21 535.64 66.55 535.95 66.03C536.26 65.51 536.57 65.12 536.88 64.86C537.18 64.61 537.49 64.49 537.8 64.5C538.11 64.52 538.42 64.67 538.72 64.96C539.03 65.24 539.34 65.67 539.65 66.23C539.96 66.8 540.27 67.49 540.57 68.33C540.88 69.17 541.19 70.14 541.5 71.25C541.81 72.36 542.12 73.61 542.42 74.99C542.73 76.37 543.04 77.9 543.35 79.55C543.66 81.21 543.97 83 544.27 84.94C544.58 86.87 544.89 88.94 545.2 91.14C545.51 93.35 545.82 95.69 546.12 98.17C546.43 100.65 546.74 103.26 547.05 106.02C547.36 108.77 547.67 111.66 547.97 114.68C548.28 117.71 548.59 120.87 548.9 124.17C549.21 127.48 549.52 130.91 549.82 134.49C550.13 138.06 550.44 141.77 550.75 145.62C551.06 149.47 551.37 153.45 551.67 157.57C551.98 161.7 552.29 165.96 552.6 170.35C552.91 174.75 553.22 179.28 553.52 183.95C553.83 188.62 554.14 193.42 554.45 198.37C554.76 203.31 555.07 208.39 555.38 213.61C555.68 218.82 556.15 226.99 556.3 229.67" fill="none" stroke="#187a22" stroke-width="1.9" stroke-dasharray="7 8.1"/>
</g>
<rect x="402.6" y="12.8" width="270.3" height="219" fill="none" stroke="#000" stroke-width="1.5"/>
<path d="M402.6 231.18H407.6M402.6 225.43H407.6M402.6 220.56H407.6M402.6 216.35H407.6M402.6 212.63H407.6M402.6 209.3H410.9M402.6 187.42H407.6M402.6 174.61H407.6M402.6 165.53H407.6M402.6 158.48H407.6M402.6 152.73H407.6M402.6 147.86H407.6M402.6 143.65H407.6M402.6 139.93H407.6M402.6 136.6H410.9M402.6 114.72H407.6M402.6 101.91H407.6M402.6 92.83H407.6M402.6 85.78H407.6M402.6 80.03H407.6M402.6 75.16H407.6M402.6 70.95H407.6M402.6 67.23H407.6M402.6 63.9H410.9M402.6 42.02H407.6M402.6 29.21H407.6M402.6 20.13H407.6M402.6 13.08H407.6" stroke="#000" stroke-width="1.4" fill="none"/>
<path d="M402.6 231.8V240M447.65 231.8V240M492.7 231.8V240M537.75 231.8V240M582.8 231.8V240M627.85 231.8V240M672.9 231.8V240" stroke="#000" stroke-width="1.4" fill="none"/>
<text x="402.6" y="255" text-anchor="middle" class="t">–0.75</text>
<text x="447.65" y="255" text-anchor="middle" class="t">–0.50</text>
<text x="492.7" y="255" text-anchor="middle" class="t">–0.25</text>
<text x="537.75" y="255" text-anchor="middle" class="t">0.00</text>
<text x="582.8" y="255" text-anchor="middle" class="t">0.25</text>
<text x="627.85" y="255" text-anchor="middle" class="t">0.50</text>
<text x="672.9" y="255" text-anchor="middle" class="t">0.75</text>
<text x="537.75" y="273.3" text-anchor="middle" class="t">Time (ps)</text>
<path d="M0.3726 0L0.2847 0L0.2847 0.5601L0.109 0.4595L0.109 0.5444C0.19 0.585 0.27 0.64 0.3076 0.716L0.3726 0.716Z" transform="translate(391.15 68.4) scale(12.5 -12.5)" fill="#000" stroke="#000" stroke-width="0.02"/>
<text x="380.73" y="141.1" class="t">0.</text>
<path d="M0.3726 0L0.2847 0L0.2847 0.5601L0.109 0.4595L0.109 0.5444C0.19 0.585 0.27 0.64 0.3076 0.716L0.3726 0.716Z" transform="translate(391.15 141.1) scale(12.5 -12.5)" fill="#000" stroke="#000" stroke-width="0.02"/>
<text x="373.78" y="213.8" class="t">0.0</text>
<path d="M0.3726 0L0.2847 0L0.2847 0.5601L0.109 0.4595L0.109 0.5444C0.19 0.585 0.27 0.64 0.3076 0.716L0.3726 0.716Z" transform="translate(391.15 213.8) scale(12.5 -12.5)" fill="#000" stroke="#000" stroke-width="0.02"/>
<text transform="translate(363 184.6) rotate(-90)" class="t">Norm. FWM intensity</text>
<text x="352.9" y="13.0" class="pl">b</text>
<circle cx="433" cy="28.1" r="3.4" fill="none" stroke="#40409a" stroke-width="0.8"/>
<path d="M415.9 44H450.9" stroke="#d61f26" stroke-width="2"/>
<path d="M415.9 60.2H450.9" stroke="#187a22" stroke-width="1.9" stroke-dasharray="7 8.1"/>
<text x="456.2" y="30.9" class="lg">Experiment</text>
<text x="456.6" y="47.9" class="lg">Theory</text>
<text x="456.2" y="64.2" class="lg">Inst.</text>
<text x="620.3" y="38.5" class="sg">σ</text>
<text x="626.8" y="34.3" class="sp">−</text>
<text x="630.6" y="38.5" class="sg">σ</text>
<text x="637.1" y="34.3" class="sp">+</text>
<text x="640.9" y="38.5" class="sg">σ</text>
<text x="647.4" y="34.3" class="sp">−</text>
<text x="651.2" y="38.5" class="sg">σ</text>
<text x="657.7" y="34.3" class="sp">+</text>
<text x="621.1" y="51" class="ts">25 Tesla</text>
<g clip-path="url(#clc)">
<path d="M110.98 526.82 L111.27 526.36 L111.57 525.90 L111.86 525.45 L112.16 524.99 L112.45 524.54 L112.75 524.08 L113.04 523.63 L113.34 523.18 L113.63 522.73 L113.93 522.28 L114.22 521.83 L114.52 521.39 L114.81 520.94 L115.11 520.50 L115.40 520.05 L115.70 519.61 L116.00 519.17 L116.29 518.72 L116.59 518.28 L116.88 517.84 L117.18 517.41 L117.47 516.97 L117.77 516.53 L118.06 516.09 L118.36 515.66 L118.65 515.22 L118.95 514.79 L119.24 514.35 L119.54 513.92 L119.83 513.49 L120.13 513.05 L120.42 512.62 L120.72 512.19 L121.01 511.76 L121.31 511.33 L121.61 510.89 L121.90 510.46 L122.20 510.03 L122.49 509.60 L122.79 509.17 L123.08 508.74 L123.38 508.31 L123.67 507.89 L123.97 507.46 L124.26 507.03 L124.56 506.60 L124.85 506.17 L125.15 505.74 L125.44 505.31 L125.74 504.88 L126.03 504.45 L126.33 504.02 L126.63 503.59 L126.92 503.16 L127.22 502.73 L127.51 502.30 L127.81 501.87 L128.10 501.44 L128.40 501.01 L128.69 500.58 L128.99 500.14 L129.28 499.71 L129.58 499.28 L129.87 498.85 L130.17 498.41 L130.46 497.98 L130.76 497.54 L131.05 497.11 L131.35 496.67 L131.64 496.23 L131.94 495.80 L132.24 495.36 L132.53 494.92 L132.83 494.48 L133.12 494.04 L133.42 493.60 L133.71 493.15 L134.01 492.71 L134.30 492.27 L134.60 491.82 L134.89 491.37 L135.19 490.93 L135.48 490.48 L135.78 490.03 L136.07 489.58 L136.37 489.13 L136.66 488.67 L136.96 488.22 L137.26 487.77 L137.55 487.31 L137.85 486.85 L138.14 486.39 L138.44 485.93 L138.73 485.47 L139.03 485.01 L139.32 484.54 L139.62 484.08 L139.91 483.61 L140.21 483.14 L140.50 482.67 L140.80 482.20 L141.09 481.72 L141.39 481.25 L141.68 480.77 L141.98 480.29 L142.28 479.81 L142.57 479.33 L142.87 478.85 L143.16 478.36 L143.46 477.87 L143.75 477.38 L144.05 476.89 L144.34 476.40 L144.64 475.90 L144.93 475.40 L145.23 474.90 L145.52 474.40 L145.82 473.89 L146.11 473.39 L146.41 472.87 L146.70 472.36 L147.00 471.84 L147.29 471.32 L147.59 470.80 L147.89 470.27 L148.18 469.74 L148.48 469.21 L148.77 468.67 L149.07 468.13 L149.36 467.59 L149.66 467.04 L149.95 466.49 L150.25 465.93 L150.54 465.37 L150.84 464.81 L151.13 464.24 L151.43 463.67 L151.72 463.09 L152.02 462.51 L152.31 461.92 L152.61 461.33 L152.91 460.74 L153.20 460.14 L153.50 459.53 L153.79 458.93 L154.09 458.31 L154.38 457.69 L154.68 457.07 L154.97 456.44 L155.27 455.80 L155.56 455.16 L155.86 454.51 L156.15 453.86 L156.45 453.20 L156.74 452.54 L157.04 451.87 L157.33 451.19 L157.63 450.51 L157.92 449.82 L158.22 449.13 L158.52 448.43 L158.81 447.72 L159.11 447.01 L159.40 446.29 L159.70 445.56 L159.99 444.83 L160.29 444.09 L160.58 443.34 L160.88 442.59 L161.17 441.83 L161.47 441.06 L161.76 440.28 L162.06 439.50 L162.35 438.71 L162.65 437.91 L162.94 437.10 L163.24 436.29 L163.54 435.47 L163.83 434.64 L164.13 433.80 L164.42 432.95 L164.72 432.10 L165.01 431.24 L165.31 430.37 L165.60 429.49 L165.90 428.60 L166.19 427.71 L166.49 426.80 L166.78 425.89 L167.08 424.97 L167.37 424.05 L167.67 423.12 L167.96 422.19 L168.26 421.25 L168.55 420.31 L168.85 419.36 L169.15 418.42 L169.44 417.47 L169.74 416.52 L170.03 415.56 L170.33 414.61 L170.62 413.66 L170.92 412.71 L171.21 411.76 L171.51 410.81 L171.80 409.87 L172.10 408.93 L172.39 407.99 L172.69 407.06 L172.98 406.13 L173.28 405.21 L173.57 404.29 L173.87 403.38 L174.17 402.48 L174.46 401.58 L174.76 400.70 L175.05 399.82 L175.35 398.95 L175.64 398.10 L175.94 397.25 L176.23 396.41 L176.53 395.59 L176.82 394.78 L177.12 393.98 L177.41 393.20 L177.71 392.43 L178.00 391.67 L178.30 390.94 L178.59 390.21 L178.89 389.51 L179.18 388.82 L179.48 388.14 L179.78 387.49 L180.07 386.86 L180.37 386.24 L180.66 385.65 L180.96 385.07 L181.25 384.52 L181.55 384.10 L181.84 383.59 L182.14 383.11 L182.43 382.65 L182.73 382.21 L183.02 381.80 L183.32 381.46 L183.61 381.19 L183.91 380.98 L184.20 380.85 L184.50 380.79 L184.77 380.80 L185.04 380.88 L185.30 381.04 L185.57 381.27 L185.84 381.57 L186.11 381.94 L186.37 382.34 L186.64 382.78 L186.91 383.23 L187.18 383.72 L187.45 384.23 L187.71 384.65 L187.98 385.21 L188.25 385.80 L188.52 386.41 L188.79 387.04 L189.05 387.69 L189.32 388.36 L189.59 389.05 L189.86 389.76 L190.12 390.48 L190.39 391.22 L190.66 391.97 L190.93 392.73 L191.20 393.51 L191.46 394.30 L191.73 395.10 L192.00 395.91 L192.27 396.73 L192.54 397.56 L192.80 398.40 L193.07 399.24 L193.34 400.08 L193.61 400.93 L193.87 401.79 L194.14 402.65 L194.41 403.51 L194.68 404.37 L194.95 405.24 L195.21 406.11 L195.48 406.98 L195.75 407.86 L196.02 408.73 L196.29 409.61 L196.55 410.49 L196.82 411.37 L197.09 412.25 L197.36 413.14 L197.62 414.02 L197.89 414.90 L198.16 415.79 L198.43 416.67 L198.70 417.55 L198.96 418.43 L199.23 419.32 L199.50 420.19 L199.77 421.07 L200.04 421.95 L200.30 422.82 L200.57 423.70 L200.84 424.56 L201.11 425.43 L201.37 426.30 L201.64 427.16 L201.91 428.01 L202.18 428.87 L202.45 429.72 L202.71 430.56 L202.98 431.40 L203.25 432.24 L203.52 433.07 L203.79 433.90 L204.05 434.72 L204.32 435.53 L204.59 436.34 L204.86 437.15 L205.12 437.94 L205.39 438.73 L205.66 439.52 L205.93 440.29 L206.20 441.06 L206.46 441.82 L206.73 442.58 L207.00 443.32 L207.27 444.06 L207.54 444.79 L207.80 445.51 L208.07 446.23 L208.34 446.94 L208.61 447.64 L208.87 448.34 L209.14 449.03 L209.41 449.71 L209.68 450.38 L209.95 451.05 L210.21 451.71 L210.48 452.37 L210.75 453.02 L211.02 453.66 L211.28 454.30 L211.55 454.93 L211.82 455.55 L212.09 456.17 L212.36 456.78 L212.62 457.39 L212.89 457.99 L213.16 458.59 L213.43 459.18 L213.70 459.76 L213.96 460.34 L214.23 460.91 L214.50 461.48 L214.77 462.04 L215.03 462.60 L215.30 463.16 L215.57 463.70 L215.84 464.25 L216.11 464.79 L216.37 465.32 L216.64 465.85 L216.91 466.38 L217.18 466.90 L217.45 467.41 L217.71 467.93 L217.98 468.43 L218.25 468.94 L218.52 469.44 L218.78 469.94 L219.05 470.43 L219.32 470.92 L219.59 471.40 L219.86 471.89 L220.12 472.36 L220.39 472.84 L220.66 473.31 L220.93 473.78 L221.20 474.25 L221.46 474.71 L221.73 475.17 L222.00 475.62 L222.27 476.08 L222.53 476.53 L222.80 476.98 L223.07 477.43 L223.34 477.87 L223.61 478.31 L223.87 478.75 L224.14 479.19 L224.41 479.62 L224.68 480.06 L224.95 480.49 L225.21 480.92 L225.48 481.34 L225.75 481.77 L226.02 482.19 L226.28 482.62 L226.55 483.04 L226.82 483.46 L227.09 483.88 L227.36 484.29 L227.62 484.71 L227.89 485.13 L228.16 485.54 L228.43 485.95 L228.70 486.37 L228.96 486.78 L229.23 487.19 L229.50 487.60 L229.77 488.01 L230.03 488.42 L230.30 488.83 L230.57 489.25 L230.84 489.66 L231.11 490.07 L231.37 490.48 L231.64 490.89 L231.91 491.30 L232.18 491.71 L232.45 492.12 L232.71 492.53 L232.98 492.94 L233.25 493.36 L233.52 493.77 L233.78 494.19 L234.05 494.60 L234.32 495.02 L234.59 495.44 L234.86 495.86 L235.12 496.28 L235.39 496.70 L235.66 497.12 L235.93 497.55 L236.19 497.97 L236.46 498.40 L236.73 498.83 L237.00 499.26 L237.27 499.70 L237.53 500.13 L237.80 500.57 L238.07 501.01 L238.34 501.46 L238.61 501.90 L238.87 502.35 L239.14 502.80 L239.41 503.25 L239.68 503.71 L239.94 504.16 L240.21 504.62 L240.48 505.09 L240.75 505.56 L241.02 506.03 L241.28 506.50 L241.55 506.98 L241.82 507.46 L242.09 507.94 L242.36 508.43 L242.62 508.92 L242.89 509.41 L243.16 509.91 L243.43 510.41 L243.69 510.92 L243.96 511.43 L244.23 511.94 L244.50 512.46 L244.77 512.98 L245.03 513.51 L245.30 514.04 L245.57 514.58 L245.84 515.12 L246.11 515.66 L246.37 516.22 L246.64 516.77 L246.91 517.33 L247.18 517.90 L247.44 518.47 L247.71 519.04 L247.98 519.62 L248.25 520.21 L248.52 520.80 L248.78 521.40 L249.05 522.00 L249.32 522.61 L249.59 523.23 L249.86 523.85 L250.12 524.47 L250.39 525.11 L250.66 525.75 L250.93 526.39 L251.19 527.04" fill="none" stroke="#111" stroke-width="1.8"/>
<path d="M110.98 526.37 L111.27 526.02 L111.56 525.66 L111.85 525.30 L112.14 524.94 L112.43 524.57 L112.72 524.21 L113.01 523.84 L113.31 523.46 L113.60 523.09 L113.89 522.71 L114.18 522.33 L114.47 521.95 L114.76 521.57 L115.05 521.18 L115.34 520.79 L115.64 520.40 L115.93 520.01 L116.22 519.62 L116.51 519.22 L116.80 518.82 L117.09 518.42 L117.38 518.02 L117.67 517.61 L117.97 517.21 L118.26 516.80 L118.55 516.39 L118.84 515.97 L119.13 515.56 L119.42 515.14 L119.71 514.73 L120.00 514.31 L120.30 513.89 L120.59 513.46 L120.88 513.04 L121.17 512.61 L121.46 512.18 L121.75 511.75 L122.04 511.32 L122.33 510.89 L122.63 510.46 L122.92 510.02 L123.21 509.58 L123.50 509.14 L123.79 508.70 L124.08 508.26 L124.37 507.82 L124.66 507.38 L124.96 506.93 L125.25 506.49 L125.54 506.04 L125.83 505.59 L126.12 505.14 L126.41 504.69 L126.70 504.24 L126.99 503.78 L127.29 503.33 L127.58 502.87 L127.87 502.42 L128.16 501.96 L128.45 501.50 L128.74 501.04 L129.03 500.58 L129.33 500.12 L129.62 499.66 L129.91 499.20 L130.20 498.73 L130.49 498.27 L130.78 497.80 L131.07 497.34 L131.36 496.87 L131.66 496.40 L131.95 495.94 L132.24 495.47 L132.53 495.00 L132.82 494.53 L133.11 494.06 L133.40 493.59 L133.69 493.12 L133.99 492.65 L134.28 492.18 L134.57 491.71 L134.86 491.24 L135.15 490.76 L135.44 490.29 L135.73 489.82 L136.02 489.35 L136.32 488.87 L136.61 488.40 L136.90 487.93 L137.19 487.45 L137.48 486.98 L137.77 486.50 L138.06 486.03 L138.35 485.56 L138.65 485.08 L138.94 484.61 L139.23 484.14 L139.52 483.66 L139.81 483.19 L140.10 482.72 L140.39 482.24 L140.68 481.77 L140.98 481.30 L141.27 480.83 L141.56 480.35 L141.85 479.88 L142.14 479.41 L142.43 478.94 L142.72 478.47 L143.01 478.00 L143.31 477.53 L143.60 477.06 L143.89 476.59 L144.18 476.13 L144.47 475.66 L144.76 475.19 L145.05 474.73 L145.34 474.26 L145.64 473.80 L145.93 473.33 L146.22 472.87 L146.51 472.41 L146.80 471.95 L147.09 471.49 L147.38 471.03 L147.67 470.57 L147.97 470.11 L148.26 469.65 L148.55 469.20 L148.84 468.74 L149.13 468.29 L149.42 467.84 L149.71 467.39 L150.00 466.93 L150.30 466.49 L150.59 466.04 L150.88 465.59 L151.17 465.14 L151.46 464.70 L151.75 464.26 L152.04 463.81 L152.33 463.37 L152.63 462.94 L152.92 462.50 L153.21 462.06 L153.50 461.63 L153.79 461.19 L154.08 460.76 L154.37 460.33 L154.66 459.90 L154.96 459.48 L155.25 459.05 L155.54 458.63 L155.83 458.20 L156.12 457.78 L156.41 457.36 L156.70 456.95 L157.00 456.53 L157.29 456.12 L157.58 455.71 L157.87 455.30 L158.16 454.89 L158.45 454.48 L158.74 454.08 L159.03 453.68 L159.33 453.28 L159.62 452.88 L159.91 452.49 L160.20 452.09 L160.49 451.70 L160.78 451.31 L161.07 450.92 L161.36 450.54 L161.66 450.16 L161.95 449.78 L162.24 449.40 L162.53 449.02 L162.82 448.65 L163.11 448.28 L163.40 447.91 L163.69 447.54 L163.99 447.18 L164.28 446.82 L164.57 446.46 L164.86 446.10 L165.15 445.75 L165.44 445.40 L165.73 445.05 L166.02 444.71 L166.32 444.36 L166.61 444.02 L166.90 443.69 L167.19 443.35 L167.48 443.02 L167.77 442.69 L168.06 442.36 L168.35 442.04 L168.65 441.72 L168.94 441.40 L169.23 441.09 L169.52 440.78 L169.81 440.47 L170.10 440.16 L170.39 439.86 L170.68 439.56 L170.98 439.27 L171.27 438.97 L171.56 438.68 L171.85 438.40 L172.14 438.11 L172.43 437.83 L172.72 437.56 L173.01 437.28 L173.31 437.01 L173.60 436.75 L173.89 436.48 L174.18 436.22 L174.47 435.97 L174.76 435.71 L175.05 435.47 L175.34 435.22 L175.64 434.98 L175.93 434.74 L176.22 434.50 L176.51 434.27 L176.80 434.05 L177.09 433.82 L177.38 433.60 L177.67 433.39 L177.97 433.17 L178.26 432.96 L178.55 432.76 L178.84 432.56 L179.13 432.36 L179.42 432.17 L179.71 431.98 L180.00 431.80 L180.30 431.61 L180.59 431.46 L180.88 431.29 L181.17 431.12 L181.46 430.95 L181.75 430.79 L182.04 430.64 L182.33 430.51 L182.63 430.42 L182.92 430.38 L183.21 430.37 L183.50 430.40 L183.73 430.45 L183.96 430.54 L184.19 430.67 L184.41 430.78 L184.64 430.95 L184.87 431.15 L185.10 431.38 L185.33 431.62 L185.56 431.88 L185.78 432.15 L186.01 432.42 L186.24 432.71 L186.47 433.01 L186.70 433.25 L186.93 433.57 L187.16 433.89 L187.38 434.23 L187.61 434.57 L187.84 434.92 L188.07 435.29 L188.30 435.65 L188.53 436.03 L188.76 436.41 L188.98 436.80 L189.21 437.20 L189.44 437.61 L189.67 438.02 L189.90 438.44 L190.13 438.86 L190.35 439.29 L190.58 439.72 L190.81 440.16 L191.04 440.61 L191.27 441.05 L191.50 441.51 L191.73 441.97 L191.95 442.43 L192.18 442.89 L192.41 443.36 L192.64 443.84 L192.87 444.31 L193.10 444.79 L193.33 445.27 L193.55 445.75 L193.78 446.24 L194.01 446.73 L194.24 447.22 L194.47 447.71 L194.70 448.20 L194.92 448.69 L195.15 449.18 L195.38 449.67 L195.61 450.17 L195.84 450.66 L196.07 451.16 L196.30 451.66 L196.52 452.15 L196.75 452.65 L196.98 453.15 L197.21 453.64 L197.44 454.14 L197.67 454.64 L197.90 455.14 L198.12 455.64 L198.35 456.14 L198.58 456.64 L198.81 457.13 L199.04 457.63 L199.27 458.13 L199.49 458.63 L199.72 459.13 L199.95 459.63 L200.18 460.13 L200.41 460.62 L200.64 461.12 L200.87 461.62 L201.09 462.11 L201.32 462.61 L201.55 463.10 L201.78 463.60 L202.01 464.09 L202.24 464.59 L202.47 465.08 L202.69 465.57 L202.92 466.06 L203.15 466.55 L203.38 467.04 L203.61 467.53 L203.84 468.02 L204.06 468.50 L204.29 468.99 L204.52 469.47 L204.75 469.95 L204.98 470.43 L205.21 470.91 L205.44 471.39 L205.66 471.87 L205.89 472.34 L206.12 472.82 L206.35 473.29 L206.58 473.76 L206.81 474.23 L207.03 474.70 L207.26 475.16 L207.49 475.63 L207.72 476.09 L207.95 476.55 L208.18 477.01 L208.41 477.46 L208.63 477.91 L208.86 478.37 L209.09 478.82 L209.32 479.26 L209.55 479.71 L209.78 480.15 L210.01 480.59 L210.23 481.03 L210.46 481.47 L210.69 481.90 L210.92 482.33 L211.15 482.76 L211.38 483.19 L211.60 483.61 L211.83 484.03 L212.06 484.45 L212.29 484.87 L212.52 485.29 L212.75 485.70 L212.98 486.12 L213.20 486.53 L213.43 486.93 L213.66 487.34 L213.89 487.74 L214.12 488.15 L214.35 488.55 L214.58 488.95 L214.80 489.34 L215.03 489.74 L215.26 490.13 L215.49 490.52 L215.72 490.91 L215.95 491.30 L216.17 491.69 L216.40 492.07 L216.63 492.45 L216.86 492.83 L217.09 493.21 L217.32 493.59 L217.55 493.97 L217.77 494.34 L218.00 494.71 L218.23 495.08 L218.46 495.45 L218.69 495.82 L218.92 496.19 L219.15 496.55 L219.37 496.92 L219.60 497.28 L219.83 497.64 L220.06 498.00 L220.29 498.36 L220.52 498.71 L220.74 499.07 L220.97 499.42 L221.20 499.78 L221.43 500.13 L221.66 500.48 L221.89 500.83 L222.12 501.17 L222.34 501.52 L222.57 501.87 L222.80 502.21 L223.03 502.55 L223.26 502.89 L223.49 503.24 L223.71 503.58 L223.94 503.91 L224.17 504.25 L224.40 504.59 L224.63 504.92 L224.86 505.26 L225.09 505.59 L225.31 505.93 L225.54 506.26 L225.77 506.59 L226.00 506.92 L226.23 507.25 L226.46 507.58 L226.69 507.90 L226.91 508.23 L227.14 508.56 L227.37 508.88 L227.60 509.21 L227.83 509.53 L228.06 509.86 L228.28 510.18 L228.51 510.50 L228.74 510.82 L228.97 511.14 L229.20 511.46 L229.43 511.78 L229.66 512.10 L229.88 512.42 L230.11 512.74 L230.34 513.06 L230.57 513.38 L230.80 513.69 L231.03 514.01 L231.26 514.33 L231.48 514.64 L231.71 514.96 L231.94 515.27 L232.17 515.59 L232.40 515.90 L232.63 516.22 L232.85 516.53 L233.08 516.84 L233.31 517.16 L233.54 517.47 L233.77 517.78 L234.00 518.10 L234.23 518.41 L234.45 518.72 L234.68 519.04 L234.91 519.35 L235.14 519.66 L235.37 519.97 L235.60 520.29 L235.83 520.60 L236.05 520.91 L236.28 521.22 L236.51 521.54 L236.74 521.85 L236.97 522.16 L237.20 522.48 L237.42 522.79 L237.65 523.10 L237.88 523.42 L238.11 523.73 L238.34 524.05 L238.57 524.36 L238.80 524.68 L239.02 524.99 L239.25 525.31 L239.48 525.62 L239.71 525.94 L239.94 526.26 L240.17 526.57 L240.40 526.89" fill="none" stroke="#d61f26" stroke-width="1.9" stroke-dasharray="7.3 8.7" stroke-dashoffset="15.38"/>
<path d="M152.12 529.34 L152.25 528.81 L152.37 528.28 L152.50 527.75 L152.63 527.21 L152.76 526.67 L152.89 526.13 L153.02 525.58 L153.14 525.03 L153.27 524.48 L153.40 523.92 L153.53 523.36 L153.66 522.79 L153.79 522.23 L153.92 521.66 L154.04 521.09 L154.17 520.51 L154.30 519.93 L154.43 519.35 L154.56 518.77 L154.69 518.18 L154.81 517.59 L154.94 517.00 L155.07 516.40 L155.20 515.80 L155.33 515.20 L155.46 514.60 L155.59 513.99 L155.71 513.39 L155.84 512.78 L155.97 512.16 L156.10 511.55 L156.23 510.93 L156.36 510.31 L156.48 509.68 L156.61 509.06 L156.74 508.43 L156.87 507.80 L157.00 507.17 L157.13 506.54 L157.26 505.90 L157.38 505.26 L157.51 504.62 L157.64 503.98 L157.77 503.34 L157.90 502.69 L158.03 502.04 L158.15 501.39 L158.28 500.74 L158.41 500.09 L158.54 499.44 L158.67 498.78 L158.80 498.12 L158.92 497.46 L159.05 496.80 L159.18 496.14 L159.31 495.47 L159.44 494.81 L159.57 494.14 L159.70 493.47 L159.82 492.80 L159.95 492.13 L160.08 491.46 L160.21 490.79 L160.34 490.11 L160.47 489.44 L160.59 488.76 L160.72 488.08 L160.85 487.40 L160.98 486.72 L161.11 486.04 L161.24 485.36 L161.37 484.68 L161.49 483.99 L161.62 483.31 L161.75 482.62 L161.88 481.94 L162.01 481.25 L162.14 480.56 L162.26 479.87 L162.39 479.19 L162.52 478.50 L162.65 477.81 L162.78 477.12 L162.91 476.43 L163.04 475.74 L163.16 475.04 L163.29 474.35 L163.42 473.66 L163.55 472.97 L163.68 472.28 L163.81 471.58 L163.93 470.89 L164.06 470.20 L164.19 469.51 L164.32 468.81 L164.45 468.12 L164.58 467.43 L164.70 466.74 L164.83 466.04 L164.96 465.35 L165.09 464.66 L165.22 463.97 L165.35 463.27 L165.48 462.58 L165.60 461.89 L165.73 461.20 L165.86 460.51 L165.99 459.82 L166.12 459.13 L166.25 458.45 L166.37 457.76 L166.50 457.07 L166.63 456.38 L166.76 455.70 L166.89 455.01 L167.02 454.33 L167.15 453.64 L167.27 452.96 L167.40 452.28 L167.53 451.60 L167.66 450.92 L167.79 450.24 L167.92 449.56 L168.04 448.89 L168.17 448.21 L168.30 447.54 L168.43 446.86 L168.56 446.19 L168.69 445.52 L168.82 444.85 L168.94 444.18 L169.07 443.51 L169.20 442.85 L169.33 442.18 L169.46 441.52 L169.59 440.86 L169.71 440.20 L169.84 439.54 L169.97 438.89 L170.10 438.23 L170.23 437.58 L170.36 436.93 L170.48 436.28 L170.61 435.63 L170.74 434.99 L170.87 434.34 L171.00 433.70 L171.13 433.06 L171.26 432.42 L171.38 431.79 L171.51 431.15 L171.64 430.52 L171.77 429.89 L171.90 429.27 L172.03 428.64 L172.15 428.02 L172.28 427.40 L172.41 426.78 L172.54 426.17 L172.67 425.55 L172.80 424.94 L172.93 424.33 L173.05 423.73 L173.18 423.13 L173.31 422.53 L173.44 421.93 L173.57 421.33 L173.70 420.74 L173.82 420.15 L173.95 419.56 L174.08 418.98 L174.21 418.40 L174.34 417.82 L174.47 417.25 L174.60 416.67 L174.72 416.11 L174.85 415.54 L174.98 414.98 L175.11 414.42 L175.24 413.86 L175.37 413.31 L175.49 412.76 L175.62 412.21 L175.75 411.67 L175.88 411.13 L176.01 410.59 L176.14 410.06 L176.26 409.53 L176.39 409.00 L176.52 408.48 L176.65 407.96 L176.78 407.44 L176.91 406.93 L177.04 406.42 L177.16 405.92 L177.29 405.42 L177.42 404.92 L177.55 404.43 L177.68 403.94 L177.81 403.46 L177.93 402.98 L178.06 402.50 L178.19 402.03 L178.32 401.56 L178.45 401.09 L178.58 400.63 L178.71 400.18 L178.83 399.72 L178.96 399.28 L179.09 398.83 L179.22 398.39 L179.35 397.96 L179.48 397.53 L179.60 397.10 L179.73 396.68 L179.86 396.26 L179.99 395.85 L180.12 395.44 L180.25 395.04 L180.38 394.64 L180.50 394.25 L180.63 393.86 L180.76 393.48 L180.89 393.10 L181.02 392.72 L181.15 392.46 L181.27 392.10 L181.40 391.74 L181.53 391.39 L181.66 391.04 L181.79 390.69 L181.92 390.36 L182.04 390.02 L182.17 389.69 L182.30 389.37 L182.43 389.05 L182.56 388.74 L182.69 388.44 L182.82 388.27 L182.94 388.01 L183.07 387.79 L183.20 387.64 L183.33 387.47 L183.46 387.33 L183.59 387.21 L183.71 387.08 L183.84 387.02 L183.97 386.91 L184.10 386.92 L184.34 386.91 L184.57 387.03 L184.81 387.22 L185.04 387.54 L185.28 388.03 L185.52 388.72 L185.75 389.31 L185.99 389.91 L186.22 390.51 L186.46 391.12 L186.70 391.74 L186.93 392.37 L187.17 392.95 L187.41 393.60 L187.64 394.25 L187.88 394.90 L188.11 395.56 L188.35 396.23 L188.59 396.91 L188.82 397.59 L189.06 398.28 L189.29 398.97 L189.53 399.67 L189.77 400.37 L190.00 401.08 L190.24 401.80 L190.47 402.52 L190.71 403.25 L190.95 403.98 L191.18 404.71 L191.42 405.45 L191.65 406.19 L191.89 406.94 L192.13 407.69 L192.36 408.45 L192.60 409.21 L192.83 409.97 L193.07 410.74 L193.31 411.51 L193.54 412.28 L193.78 413.06 L194.02 413.84 L194.25 414.62 L194.49 415.40 L194.72 416.19 L194.96 416.98 L195.20 417.77 L195.43 418.56 L195.67 419.36 L195.90 420.15 L196.14 420.95 L196.38 421.75 L196.61 422.55 L196.85 423.35 L197.08 424.16 L197.32 424.96 L197.56 425.76 L197.79 426.57 L198.03 427.37 L198.26 428.18 L198.50 428.98 L198.74 429.79 L198.97 430.59 L199.21 431.39 L199.45 432.20 L199.68 433.00 L199.92 433.80 L200.15 434.60 L200.39 435.40 L200.63 436.20 L200.86 437.00 L201.10 437.79 L201.33 438.59 L201.57 439.38 L201.81 440.17 L202.04 440.95 L202.28 441.74 L202.51 442.52 L202.75 443.30 L202.99 444.08 L203.22 444.85 L203.46 445.62 L203.69 446.39 L203.93 447.15 L204.17 447.91 L204.40 448.67 L204.64 449.42 L204.88 450.17 L205.11 450.92 L205.35 451.66 L205.58 452.39 L205.82 453.12 L206.06 453.85 L206.29 454.57 L206.53 455.29 L206.76 456.00 L207.00 456.71 L207.24 457.41 L207.47 458.11 L207.71 458.80 L207.94 459.49 L208.18 460.18 L208.42 460.86 L208.65 461.53 L208.89 462.20 L209.12 462.87 L209.36 463.53 L209.60 464.19 L209.83 464.84 L210.07 465.49 L210.30 466.14 L210.54 466.78 L210.78 467.42 L211.01 468.05 L211.25 468.68 L211.49 469.30 L211.72 469.92 L211.96 470.54 L212.19 471.15 L212.43 471.76 L212.67 472.36 L212.90 472.96 L213.14 473.56 L213.37 474.15 L213.61 474.74 L213.85 475.33 L214.08 475.91 L214.32 476.48 L214.55 477.06 L214.79 477.63 L215.03 478.19 L215.26 478.75 L215.50 479.31 L215.73 479.87 L215.97 480.42 L216.21 480.97 L216.44 481.51 L216.68 482.05 L216.92 482.59 L217.15 483.12 L217.39 483.65 L217.62 484.18 L217.86 484.70 L218.10 485.22 L218.33 485.74 L218.57 486.25 L218.80 486.76 L219.04 487.27 L219.28 487.77 L219.51 488.27 L219.75 488.77 L219.98 489.27 L220.22 489.76 L220.46 490.24 L220.69 490.73 L220.93 491.21 L221.16 491.69 L221.40 492.17 L221.64 492.64 L221.87 493.11 L222.11 493.58 L222.35 494.04 L222.58 494.50 L222.82 494.96 L223.05 495.42 L223.29 495.87 L223.53 496.32 L223.76 496.77 L224.00 497.21 L224.23 497.66 L224.47 498.10 L224.71 498.53 L224.94 498.97 L225.18 499.40 L225.41 499.83 L225.65 500.26 L225.89 500.68 L226.12 501.10 L226.36 501.52 L226.59 501.94 L226.83 502.36 L227.07 502.77 L227.30 503.18 L227.54 503.59 L227.77 504.00 L228.01 504.40 L228.25 504.80 L228.48 505.20 L228.72 505.60 L228.96 506.00 L229.19 506.39 L229.43 506.78 L229.66 507.17 L229.90 507.56 L230.14 507.94 L230.37 508.33 L230.61 508.71 L230.84 509.09 L231.08 509.47 L231.32 509.84 L231.55 510.22 L231.79 510.59 L232.02 510.96 L232.26 511.33 L232.50 511.70 L232.73 512.06 L232.97 512.43 L233.20 512.79 L233.44 513.15 L233.68 513.51 L233.91 513.87 L234.15 514.22 L234.39 514.58 L234.62 514.93 L234.86 515.29 L235.09 515.64 L235.33 515.99 L235.57 516.34 L235.80 516.68 L236.04 517.03 L236.27 517.37 L236.51 517.72 L236.75 518.06 L236.98 518.40 L237.22 518.74 L237.45 519.08 L237.69 519.42 L237.93 519.75 L238.16 520.09 L238.40 520.42 L238.63 520.76 L238.87 521.09 L239.11 521.42 L239.34 521.75 L239.58 522.08 L239.81 522.41 L240.05 522.74 L240.29 523.07 L240.52 523.40 L240.76 523.72 L241.00 524.05 L241.23 524.37 L241.47 524.70 L241.70 525.02 L241.94 525.34 L242.18 525.67 L242.41 525.99 L242.65 526.31 L242.88 526.63" fill="none" stroke="#1f2388" stroke-width="1.9" stroke-dasharray="7.3 8.7" stroke-dashoffset="11.63"/>
</g>
<rect x="50.7" y="307.9" width="267" height="216.9" fill="none" stroke="#000" stroke-width="1.5"/>
<path d="M50.7 524.7H59M50.7 502.94H55.7M50.7 490.2H55.7M50.7 481.17H55.7M50.7 474.16H55.7M50.7 468.44H55.7M50.7 463.6H55.7M50.7 459.41H55.7M50.7 455.71H55.7M50.7 452.4H59M50.7 430.64H55.7M50.7 417.9H55.7M50.7 408.87H55.7M50.7 401.86H55.7M50.7 396.14H55.7M50.7 391.3H55.7M50.7 387.11H55.7M50.7 383.41H55.7M50.7 380.1H59M50.7 358.34H55.7M50.7 345.6H55.7M50.7 336.57H55.7M50.7 329.56H55.7M50.7 323.84H55.7M50.7 319H55.7M50.7 314.81H55.7M50.7 311.11H55.7M50.7 307.8H59" stroke="#000" stroke-width="1.4" fill="none"/>
<path d="M50.7 524.8V533M95.2 524.8V533M139.7 524.8V533M184.2 524.8V533M228.7 524.8V533M273.2 524.8V533M317.7 524.8V533" stroke="#000" stroke-width="1.4" fill="none"/>
<text x="50.7" y="548.6" text-anchor="middle" class="t">–0.75</text>
<text x="95.2" y="548.6" text-anchor="middle" class="t">–0.50</text>
<text x="139.7" y="548.6" text-anchor="middle" class="t">–0.25</text>
<text x="184.2" y="548.6" text-anchor="middle" class="t">0.00</text>
<text x="228.7" y="548.6" text-anchor="middle" class="t">0.25</text>
<text x="273.2" y="548.6" text-anchor="middle" class="t">0.50</text>
<text x="317.7" y="548.6" text-anchor="middle" class="t">0.75</text>
<text x="184.2" y="566.9" text-anchor="middle" class="t">Time (ps)</text>
<path d="M0.3726 0L0.2847 0L0.2847 0.5601L0.109 0.4595L0.109 0.5444C0.19 0.585 0.27 0.64 0.3076 0.716L0.3726 0.716Z" transform="translate(31.5 312.3) scale(12.5 -12.5)" fill="#000" stroke="#000" stroke-width="0.02"/>
<text x="38.45" y="312.3" class="t">0</text>
<path d="M0.3726 0L0.2847 0L0.2847 0.5601L0.109 0.4595L0.109 0.5444C0.19 0.585 0.27 0.64 0.3076 0.716L0.3726 0.716Z" transform="translate(38.45 384.6) scale(12.5 -12.5)" fill="#000" stroke="#000" stroke-width="0.02"/>
<text x="28.03" y="456.9" class="t">0.</text>
<path d="M0.3726 0L0.2847 0L0.2847 0.5601L0.109 0.4595L0.109 0.5444C0.19 0.585 0.27 0.64 0.3076 0.716L0.3726 0.716Z" transform="translate(38.45 456.9) scale(12.5 -12.5)" fill="#000" stroke="#000" stroke-width="0.02"/>
<text x="21.08" y="529.2" class="t">0.0</text>
<path d="M0.3726 0L0.2847 0L0.2847 0.5601L0.109 0.4595L0.109 0.5444C0.19 0.585 0.27 0.64 0.3076 0.716L0.3726 0.716Z" transform="translate(38.45 529.2) scale(12.5 -12.5)" fill="#000" stroke="#000" stroke-width="0.02"/>
<text transform="translate(8.8 478.6) rotate(-90)" class="t">Norm. FWM intensity</text>
<text x="0.2" y="307.6" class="pl">c</text>
<path d="M63.8 322H94.4" stroke="#111" stroke-width="1.8"/>
<path d="M63.8 338.3H86.3" stroke="#d61f26" stroke-width="1.9" stroke-dasharray="7 8.1"/>
<path d="M63.8 354.4H86.3" stroke="#1f2388" stroke-width="1.9" stroke-dasharray="7 8.1"/>
<text x="100.6" y="325.9" class="lg">Theory total</text>
<text x="100.2" y="341.8" class="lg">Biexciton</text>
<text x="100.0" y="357.9" class="lg">Exciton</text>
<text x="265.2" y="333.7" class="sg">σ</text>
<text x="271.7" y="329.5" class="sp">+</text>
<text x="275.5" y="333.7" class="sg">σ</text>
<text x="282" y="329.5" class="sp">+</text>
<text x="285.8" y="333.7" class="sg">σ</text>
<text x="292.3" y="329.5" class="sp">+</text>
<text x="296.1" y="333.7" class="sg">σ</text>
<text x="302.6" y="329.5" class="sp">+</text>
<text x="265.5" y="348.9" class="ts">25 Tesla</text>
<g clip-path="url(#cld)">
<path d="M410.98 526.54 L411.47 525.96 L411.96 525.39 L412.46 524.82 L412.95 524.25 L413.45 523.67 L413.94 523.10 L414.43 522.52 L414.93 521.95 L415.42 521.37 L415.92 520.79 L416.41 520.21 L416.90 519.63 L417.40 519.05 L417.89 518.47 L418.39 517.89 L418.88 517.31 L419.37 516.73 L419.87 516.15 L420.36 515.56 L420.86 514.98 L421.35 514.40 L421.84 513.81 L422.34 513.23 L422.83 512.64 L423.33 512.06 L423.82 511.47 L424.32 510.89 L424.81 510.30 L425.30 509.71 L425.80 509.12 L426.29 508.54 L426.79 507.95 L427.28 507.36 L427.77 506.77 L428.27 506.19 L428.76 505.60 L429.26 505.01 L429.75 504.42 L430.24 503.83 L430.74 503.24 L431.23 502.66 L431.73 502.07 L432.22 501.48 L432.71 500.89 L433.21 500.30 L433.70 499.71 L434.20 499.12 L434.69 498.53 L435.18 497.95 L435.68 497.36 L436.17 496.77 L436.67 496.18 L437.16 495.59 L437.66 495.01 L438.15 494.42 L438.64 493.83 L439.14 493.24 L439.63 492.66 L440.13 492.07 L440.62 491.48 L441.11 490.90 L441.61 490.31 L442.10 489.73 L442.60 489.14 L443.09 488.56 L443.58 487.98 L444.08 487.39 L444.57 486.81 L445.07 486.23 L445.56 485.65 L446.05 485.06 L446.55 484.48 L447.04 483.90 L447.54 483.32 L448.03 482.74 L448.52 482.17 L449.02 481.59 L449.51 481.01 L450.01 480.44 L450.50 479.86 L451.00 479.29 L451.49 478.71 L451.98 478.14 L452.48 477.57 L452.97 476.99 L453.47 476.42 L453.96 475.85 L454.45 475.28 L454.95 474.72 L455.44 474.15 L455.94 473.58 L456.43 473.02 L456.92 472.45 L457.42 471.89 L457.91 471.33 L458.41 470.76 L458.90 470.20 L459.39 469.65 L459.89 469.09 L460.38 468.53 L460.88 467.97 L461.37 467.42 L461.86 466.87 L462.36 466.31 L462.85 465.76 L463.35 465.21 L463.84 464.66 L464.34 464.12 L464.83 463.57 L465.32 463.02 L465.82 462.48 L466.31 461.94 L466.81 461.40 L467.30 460.86 L467.79 460.32 L468.29 459.78 L468.78 459.25 L469.28 458.72 L469.77 458.18 L470.26 457.65 L470.76 457.12 L471.25 456.60 L471.75 456.07 L472.24 455.55 L472.73 455.02 L473.23 454.50 L473.72 453.98 L474.22 453.46 L474.71 452.95 L475.21 452.43 L475.70 451.92 L476.19 451.41 L476.69 450.90 L477.18 450.39 L477.68 449.89 L478.17 449.38 L478.66 448.88 L479.16 448.38 L479.65 447.88 L480.15 447.39 L480.64 446.89 L481.13 446.40 L481.63 445.91 L482.12 445.42 L482.62 444.93 L483.11 444.45 L483.60 443.97 L484.10 443.49 L484.59 443.01 L485.09 442.53 L485.58 442.06 L486.07 441.59 L486.57 441.12 L487.06 440.65 L487.56 440.18 L488.05 439.72 L488.55 439.26 L489.04 438.80 L489.53 438.34 L490.03 437.89 L490.52 437.44 L491.02 436.99 L491.51 436.54 L492.00 436.10 L492.50 435.65 L492.99 435.21 L493.49 434.78 L493.98 434.34 L494.47 433.91 L494.97 433.48 L495.46 433.05 L495.96 432.63 L496.45 432.20 L496.94 431.78 L497.44 431.37 L497.93 430.95 L498.43 430.54 L498.92 430.13 L499.41 429.72 L499.91 429.32 L500.40 428.92 L500.90 428.52 L501.39 428.13 L501.89 427.73 L502.38 427.34 L502.87 426.96 L503.37 426.57 L503.86 426.19 L504.36 425.81 L504.85 425.43 L505.34 425.06 L505.84 424.69 L506.33 424.32 L506.83 423.96 L507.32 423.60 L507.81 423.24 L508.31 422.89 L508.80 422.53 L509.30 422.19 L509.79 421.84 L510.28 421.50 L510.78 421.16 L511.27 420.82 L511.77 420.49 L512.26 420.16 L512.75 419.83 L513.25 419.51 L513.74 419.19 L514.24 418.87 L514.73 418.56 L515.23 418.25 L515.72 417.94 L516.21 417.63 L516.71 417.33 L517.20 417.04 L517.70 416.74 L518.19 416.45 L518.68 416.17 L519.18 415.88 L519.67 415.60 L520.17 415.33 L520.66 415.05 L521.15 414.79 L521.65 414.52 L522.14 414.26 L522.64 414.00 L523.13 413.74 L523.62 413.49 L524.12 413.25 L524.61 413.00 L525.11 412.76 L525.60 412.53 L526.09 412.29 L526.59 412.06 L527.08 411.84 L527.58 411.62 L528.07 411.40 L528.57 411.19 L529.06 410.98 L529.55 410.77 L530.05 410.57 L530.54 410.37 L531.04 410.19 L531.53 410.00 L532.02 409.81 L532.52 409.63 L533.01 409.54 L533.51 409.45 L534.00 409.47 L534.55 409.62 L535.10 409.93 L535.65 410.36 L536.20 410.80 L536.75 411.26 L537.30 411.72 L537.85 412.21 L538.40 412.71 L538.95 413.22 L539.50 413.75 L540.05 414.29 L540.60 414.83 L541.15 415.39 L541.70 415.96 L542.25 416.53 L542.80 417.12 L543.35 417.71 L543.90 418.31 L544.46 418.91 L545.01 419.52 L545.56 420.14 L546.11 420.76 L546.66 421.39 L547.21 422.02 L547.76 422.65 L548.31 423.28 L548.86 423.92 L549.41 424.56 L549.96 425.19 L550.51 425.83 L551.06 426.47 L551.61 427.11 L552.16 427.74 L552.71 428.37 L553.26 429.00 L553.81 429.63 L554.36 430.26 L554.91 430.88 L555.46 431.50 L556.01 432.12 L556.56 432.73 L557.11 433.34 L557.66 433.94 L558.21 434.54 L558.76 435.14 L559.31 435.73 L559.86 436.31 L560.41 436.89 L560.96 437.47 L561.51 438.04 L562.06 438.60 L562.61 439.15 L563.16 439.70 L563.71 440.24 L564.27 440.78 L564.82 441.31 L565.37 441.83 L565.92 442.34 L566.47 442.84 L567.02 443.34 L567.57 443.83 L568.12 444.31 L568.67 444.79 L569.22 445.26 L569.77 445.73 L570.32 446.18 L570.87 446.63 L571.42 447.08 L571.97 447.52 L572.52 447.96 L573.07 448.39 L573.62 448.81 L574.17 449.23 L574.72 449.65 L575.27 450.06 L575.82 450.46 L576.37 450.87 L576.92 451.26 L577.47 451.66 L578.02 452.05 L578.57 452.44 L579.12 452.82 L579.67 453.21 L580.22 453.59 L580.77 453.96 L581.32 454.34 L581.87 454.71 L582.42 455.08 L582.97 455.45 L583.52 455.82 L584.08 456.18 L584.63 456.55 L585.18 456.91 L585.73 457.27 L586.28 457.64 L586.83 458.00 L587.38 458.36 L587.93 458.72 L588.48 459.08 L589.03 459.44 L589.58 459.80 L590.13 460.17 L590.68 460.53 L591.23 460.90 L591.78 461.26 L592.33 461.63 L592.88 462.00 L593.43 462.37 L593.98 462.74 L594.53 463.12 L595.08 463.50 L595.63 463.88 L596.18 464.26 L596.73 464.64 L597.28 465.03 L597.83 465.43 L598.38 465.82 L598.93 466.22 L599.48 466.63 L600.03 467.03 L600.58 467.44 L601.13 467.86 L601.68 468.28 L602.23 468.70 L602.78 469.13 L603.33 469.56 L603.89 469.99 L604.44 470.42 L604.99 470.86 L605.54 471.31 L606.09 471.75 L606.64 472.20 L607.19 472.65 L607.74 473.11 L608.29 473.56 L608.84 474.02 L609.39 474.49 L609.94 474.95 L610.49 475.42 L611.04 475.89 L611.59 476.36 L612.14 476.84 L612.69 477.31 L613.24 477.79 L613.79 478.27 L614.34 478.76 L614.89 479.24 L615.44 479.73 L615.99 480.22 L616.54 480.71 L617.09 481.20 L617.64 481.69 L618.19 482.19 L618.74 482.69 L619.29 483.19 L619.84 483.69 L620.39 484.19 L620.94 484.69 L621.49 485.19 L622.04 485.70 L622.59 486.20 L623.14 486.71 L623.70 487.21 L624.25 487.72 L624.80 488.23 L625.35 488.74 L625.90 489.25 L626.45 489.76 L627.00 490.27 L627.55 490.78 L628.10 491.29 L628.65 491.80 L629.20 492.31 L629.75 492.82 L630.30 493.33 L630.85 493.84 L631.40 494.35 L631.95 494.86 L632.50 495.37 L633.05 495.88 L633.60 496.39 L634.15 496.90 L634.70 497.41 L635.25 497.92 L635.80 498.42 L636.35 498.93 L636.90 499.43 L637.45 499.94 L638.00 500.44 L638.55 500.94 L639.10 501.44 L639.65 501.94 L640.20 502.44 L640.75 502.94 L641.30 503.43 L641.85 503.92 L642.40 504.42 L642.95 504.91 L643.51 505.39 L644.06 505.88 L644.61 506.37 L645.16 506.85 L645.71 507.33 L646.26 507.81 L646.81 508.28 L647.36 508.76 L647.91 509.23 L648.46 509.70 L649.01 510.17 L649.56 510.63 L650.11 511.09 L650.66 511.55 L651.21 512.01 L651.76 512.46 L652.31 512.91 L652.86 513.36 L653.41 513.80 L653.96 514.24 L654.51 514.68 L655.06 515.12 L655.61 515.55 L656.16 515.98 L656.71 516.40 L657.26 516.82 L657.81 517.24 L658.36 517.65 L658.91 518.06 L659.46 518.47 L660.01 518.87 L660.56 519.27 L661.11 519.66 L661.66 520.05 L662.21 520.44 L662.76 520.82 L663.31 521.20 L663.87 521.57 L664.42 521.94 L664.97 522.31 L665.52 522.66 L666.07 523.02 L666.62 523.37 L667.17 523.71 L667.72 524.05 L668.27 524.39 L668.82 524.72 L669.37 525.04 L669.92 525.36 L670.47 525.68 L671.02 525.99" fill="none" stroke="#d61f26" stroke-width="1.9" stroke-dasharray="7.8 9.7" stroke-dashoffset="11.37" clip-path="url(#cldr)"/>
<path d="M496.09 527.92 L496.26 527.08 L496.42 526.23 L496.59 525.39 L496.76 524.55 L496.92 523.70 L497.09 522.86 L497.26 522.02 L497.42 521.18 L497.59 520.34 L497.76 519.50 L497.92 518.66 L498.09 517.82 L498.25 516.98 L498.42 516.14 L498.59 515.30 L498.75 514.47 L498.92 513.63 L499.09 512.79 L499.25 511.96 L499.42 511.12 L499.58 510.29 L499.75 509.46 L499.92 508.62 L500.08 507.79 L500.25 506.96 L500.42 506.13 L500.58 505.30 L500.75 504.47 L500.91 503.64 L501.08 502.81 L501.25 501.98 L501.41 501.16 L501.58 500.33 L501.75 499.50 L501.91 498.68 L502.08 497.85 L502.25 497.03 L502.41 496.21 L502.58 495.38 L502.74 494.56 L502.91 493.74 L503.08 492.92 L503.24 492.10 L503.41 491.28 L503.58 490.47 L503.74 489.65 L503.91 488.83 L504.07 488.02 L504.24 487.20 L504.41 486.39 L504.57 485.57 L504.74 484.76 L504.91 483.95 L505.07 483.14 L505.24 482.33 L505.40 481.52 L505.57 480.71 L505.74 479.90 L505.90 479.09 L506.07 478.29 L506.24 477.48 L506.40 476.68 L506.57 475.87 L506.74 475.07 L506.90 474.27 L507.07 473.47 L507.23 472.67 L507.40 471.87 L507.57 471.07 L507.73 470.27 L507.90 469.47 L508.07 468.68 L508.23 467.88 L508.40 467.09 L508.56 466.29 L508.73 465.50 L508.90 464.71 L509.06 463.92 L509.23 463.13 L509.40 462.34 L509.56 461.55 L509.73 460.77 L509.89 459.98 L510.06 459.19 L510.23 458.41 L510.39 457.63 L510.56 456.85 L510.73 456.06 L510.89 455.28 L511.06 454.50 L511.23 453.73 L511.39 452.95 L511.56 452.17 L511.72 451.40 L511.89 450.62 L512.06 449.85 L512.22 449.08 L512.39 448.31 L512.56 447.54 L512.72 446.77 L512.89 446.00 L513.05 445.23 L513.22 444.47 L513.39 443.70 L513.55 442.94 L513.72 442.17 L513.89 441.41 L514.05 440.65 L514.22 439.89 L514.38 439.13 L514.55 438.38 L514.72 437.62 L514.88 436.87 L515.05 436.11 L515.22 435.36 L515.38 434.61 L515.55 433.86 L515.72 433.11 L515.88 432.36 L516.05 431.61 L516.21 430.87 L516.38 430.12 L516.55 429.38 L516.71 428.64 L516.88 427.89 L517.05 427.15 L517.21 426.42 L517.38 425.68 L517.54 424.94 L517.71 424.21 L517.88 423.47 L518.04 422.74 L518.21 422.01 L518.38 421.29 L518.54 420.56 L518.71 419.83 L518.87 419.11 L519.04 418.39 L519.21 417.67 L519.37 416.96 L519.54 416.24 L519.71 415.53 L519.87 414.82 L520.04 414.11 L520.21 413.41 L520.37 412.71 L520.54 412.01 L520.70 411.31 L520.87 410.61 L521.04 409.92 L521.20 409.23 L521.37 408.54 L521.54 407.86 L521.70 407.18 L521.87 406.50 L522.03 405.83 L522.20 405.15 L522.37 404.49 L522.53 403.82 L522.70 403.16 L522.87 402.50 L523.03 401.84 L523.20 401.19 L523.36 400.54 L523.53 399.90 L523.70 399.26 L523.86 398.62 L524.03 397.99 L524.20 397.36 L524.36 396.73 L524.53 396.11 L524.70 395.49 L524.86 394.87 L525.03 394.26 L525.19 393.66 L525.36 393.06 L525.53 392.46 L525.69 391.87 L525.86 391.28 L526.03 390.69 L526.19 390.11 L526.36 389.54 L526.52 388.97 L526.69 388.40 L526.86 387.84 L527.02 387.29 L527.19 386.73 L527.36 386.19 L527.52 385.65 L527.69 385.11 L527.85 384.58 L528.02 384.05 L528.19 383.53 L528.35 383.02 L528.52 382.51 L528.69 382.00 L528.85 381.50 L529.02 381.01 L529.19 380.52 L529.35 380.04 L529.52 379.56 L529.68 379.09 L529.85 378.63 L530.02 378.17 L530.18 377.72 L530.35 377.27 L530.52 376.83 L530.68 376.39 L530.85 375.97 L531.01 375.54 L531.18 375.13 L531.35 374.72 L531.51 374.32 L531.68 373.92 L531.85 373.53 L532.01 373.15 L532.18 372.77 L532.34 372.40 L532.51 372.04 L532.68 371.68 L532.84 371.33 L533.01 370.99 L533.18 370.65 L533.34 370.32 L533.51 370.00 L533.68 369.69 L533.84 369.38 L534.01 369.08 L534.17 368.79 L534.34 368.51 L534.51 368.34 L534.67 368.07 L534.84 367.81 L535.01 367.56 L535.17 367.32 L535.34 367.08 L535.50 366.85 L535.67 366.63 L535.84 366.41 L536.00 366.21 L536.17 366.09 L536.34 365.93 L536.50 365.80 L536.67 365.72 L536.83 365.63 L537.00 365.59 L537.17 365.59 L537.33 365.63 L537.50 365.59 L537.72 365.67 L537.94 365.84 L538.16 366.04 L538.37 366.38 L538.59 366.71 L538.81 367.08 L539.03 367.73 L539.25 368.20 L539.47 368.69 L539.68 369.19 L539.90 369.69 L540.12 370.20 L540.34 370.73 L540.56 371.19 L540.78 371.74 L540.99 372.29 L541.21 372.85 L541.43 373.41 L541.65 373.99 L541.87 374.57 L542.09 375.17 L542.30 375.77 L542.52 376.38 L542.74 376.99 L542.96 377.62 L543.18 378.25 L543.40 378.89 L543.61 379.54 L543.83 380.20 L544.05 380.86 L544.27 381.53 L544.49 382.21 L544.71 382.89 L544.92 383.59 L545.14 384.28 L545.36 384.99 L545.58 385.70 L545.80 386.42 L546.02 387.15 L546.23 387.88 L546.45 388.62 L546.67 389.36 L546.89 390.11 L547.11 390.87 L547.33 391.63 L547.54 392.40 L547.76 393.17 L547.98 393.95 L548.20 394.74 L548.42 395.53 L548.64 396.32 L548.86 397.13 L549.07 397.93 L549.29 398.74 L549.51 399.56 L549.73 400.38 L549.95 401.20 L550.17 402.03 L550.38 402.87 L550.60 403.71 L550.82 404.55 L551.04 405.40 L551.26 406.25 L551.48 407.11 L551.69 407.97 L551.91 408.83 L552.13 409.70 L552.35 410.57 L552.57 411.44 L552.79 412.32 L553.00 413.20 L553.22 414.08 L553.44 414.97 L553.66 415.86 L553.88 416.75 L554.10 417.65 L554.31 418.54 L554.53 419.44 L554.75 420.35 L554.97 421.25 L555.19 422.16 L555.41 423.07 L555.62 423.98 L555.84 424.90 L556.06 425.81 L556.28 426.73 L556.50 427.65 L556.72 428.57 L556.93 429.49 L557.15 430.42 L557.37 431.34 L557.59 432.27 L557.81 433.19 L558.03 434.12 L558.24 435.05 L558.46 435.98 L558.68 436.91 L558.90 437.84 L559.12 438.77 L559.34 439.70 L559.56 440.63 L559.77 441.57 L559.99 442.50 L560.21 443.43 L560.43 444.36 L560.65 445.29 L560.87 446.21 L561.08 447.14 L561.30 448.07 L561.52 448.99 L561.74 449.91 L561.96 450.84 L562.18 451.76 L562.39 452.68 L562.61 453.59 L562.83 454.51 L563.05 455.42 L563.27 456.33 L563.49 457.23 L563.70 458.14 L563.92 459.04 L564.14 459.94 L564.36 460.83 L564.58 461.72 L564.80 462.61 L565.01 463.50 L565.23 464.38 L565.45 465.25 L565.67 466.13 L565.89 466.99 L566.11 467.86 L566.32 468.72 L566.54 469.57 L566.76 470.42 L566.98 471.27 L567.20 472.11 L567.42 472.95 L567.63 473.78 L567.85 474.60 L568.07 475.42 L568.29 476.23 L568.51 477.04 L568.73 477.84 L568.94 478.64 L569.16 479.42 L569.38 480.21 L569.60 480.98 L569.82 481.75 L570.04 482.51 L570.26 483.27 L570.47 484.02 L570.69 484.76 L570.91 485.50 L571.13 486.23 L571.35 486.95 L571.57 487.67 L571.78 488.38 L572.00 489.09 L572.22 489.79 L572.44 490.48 L572.66 491.16 L572.88 491.84 L573.09 492.52 L573.31 493.18 L573.53 493.84 L573.75 494.50 L573.97 495.15 L574.19 495.79 L574.40 496.43 L574.62 497.06 L574.84 497.68 L575.06 498.30 L575.28 498.91 L575.50 499.51 L575.71 500.11 L575.93 500.70 L576.15 501.29 L576.37 501.87 L576.59 502.45 L576.81 503.02 L577.02 503.58 L577.24 504.13 L577.46 504.69 L577.68 505.23 L577.90 505.77 L578.12 506.30 L578.33 506.83 L578.55 507.35 L578.77 507.86 L578.99 508.37 L579.21 508.88 L579.43 509.37 L579.64 509.86 L579.86 510.35 L580.08 510.83 L580.30 511.30 L580.52 511.77 L580.74 512.23 L580.96 512.69 L581.17 513.14 L581.39 513.59 L581.61 514.03 L581.83 514.46 L582.05 514.89 L582.27 515.31 L582.48 515.73 L582.70 516.14 L582.92 516.54 L583.14 516.94 L583.36 517.34 L583.58 517.73 L583.79 518.11 L584.01 518.49 L584.23 518.86 L584.45 519.22 L584.67 519.58 L584.89 519.94 L585.10 520.29 L585.32 520.63 L585.54 520.97 L585.76 521.31 L585.98 521.63 L586.20 521.96 L586.41 522.27 L586.63 522.58 L586.85 522.89 L587.07 523.19 L587.29 523.49 L587.51 523.78 L587.72 524.06 L587.94 524.34 L588.16 524.62 L588.38 524.88 L588.60 525.15 L588.82 525.41 L589.03 525.66 L589.25 525.91 L589.47 526.15 L589.69 526.39 L589.91 526.62 L590.13 526.85 L590.34 527.07 L590.56 527.29 L590.78 527.50 L591.00 527.71 L591.22 527.91 L591.44 528.10 L591.66 528.30 L591.87 528.48" fill="none" stroke="#1f2388" stroke-width="1.9" stroke-dasharray="7.0 8.5" stroke-dashoffset="10.65"/>
<path d="M410.98 527.10 L411.48 526.43 L411.99 525.77 L412.49 525.10 L413.00 524.44 L413.50 523.79 L414.01 523.13 L414.51 522.47 L415.02 521.82 L415.52 521.17 L416.03 520.52 L416.53 519.88 L417.04 519.23 L417.54 518.59 L418.05 517.95 L418.55 517.31 L419.06 516.67 L419.57 516.04 L420.07 515.41 L420.58 514.77 L421.08 514.14 L421.59 513.52 L422.09 512.89 L422.60 512.27 L423.10 511.64 L423.61 511.02 L424.11 510.40 L424.62 509.79 L425.12 509.17 L425.63 508.56 L426.13 507.95 L426.64 507.33 L427.15 506.73 L427.65 506.12 L428.16 505.51 L428.66 504.91 L429.17 504.30 L429.67 503.70 L430.18 503.10 L430.68 502.50 L431.19 501.91 L431.69 501.31 L432.20 500.72 L432.70 500.12 L433.21 499.53 L433.71 498.94 L434.22 498.35 L434.73 497.77 L435.23 497.18 L435.74 496.59 L436.24 496.01 L436.75 495.43 L437.25 494.85 L437.76 494.27 L438.26 493.69 L438.77 493.11 L439.27 492.53 L439.78 491.96 L440.28 491.39 L440.79 490.81 L441.29 490.24 L441.80 489.67 L442.31 489.10 L442.81 488.53 L443.32 487.96 L443.82 487.40 L444.33 486.83 L444.83 486.26 L445.34 485.70 L445.84 485.14 L446.35 484.58 L446.85 484.01 L447.36 483.45 L447.86 482.89 L448.37 482.34 L448.87 481.78 L449.38 481.22 L449.88 480.66 L450.39 480.11 L450.90 479.55 L451.40 479.00 L451.91 478.45 L452.41 477.89 L452.92 477.34 L453.42 476.79 L453.93 476.24 L454.43 475.69 L454.94 475.14 L455.44 474.59 L455.95 474.04 L456.45 473.49 L456.96 472.95 L457.46 472.40 L457.97 471.85 L458.48 471.31 L458.98 470.76 L459.49 470.22 L459.99 469.67 L460.50 469.13 L461.00 468.58 L461.51 468.04 L462.01 467.50 L462.52 466.96 L463.02 466.41 L463.53 465.87 L464.03 465.33 L464.54 464.79 L465.04 464.25 L465.55 463.70 L466.06 463.16 L466.56 462.62 L467.07 462.08 L467.57 461.54 L468.08 461.00 L468.58 460.46 L469.09 459.92 L469.59 459.38 L470.10 458.84 L470.60 458.30 L471.11 457.76 L471.61 457.22 L472.12 456.68 L472.62 456.14 L473.13 455.60 L473.63 455.06 L474.14 454.52 L474.65 453.98 L475.15 453.44 L475.66 452.90 L476.16 452.36 L476.67 451.82 L477.17 451.27 L477.68 450.73 L478.18 450.19 L478.69 449.65 L479.19 449.11 L479.70 448.56 L480.20 448.02 L480.71 447.48 L481.21 446.93 L481.72 446.39 L482.23 445.85 L482.73 445.30 L483.24 444.76 L483.74 444.21 L484.25 443.66 L484.75 443.12 L485.26 442.57 L485.76 442.02 L486.27 441.48 L486.77 440.93 L487.28 440.38 L487.78 439.83 L488.29 439.28 L488.79 438.73 L489.30 438.18 L489.81 437.62 L490.31 437.07 L490.82 436.52 L491.32 435.96 L491.83 435.41 L492.33 434.85 L492.84 434.30 L493.34 433.74 L493.85 433.18 L494.35 432.62 L494.86 432.06 L495.36 431.50 L495.87 430.94 L496.37 430.38 L496.88 429.81 L497.38 429.25 L497.89 428.69 L498.40 428.12 L498.90 427.55 L499.41 426.98 L499.91 426.42 L500.42 425.85 L500.92 425.27 L501.43 424.70 L501.93 424.13 L502.44 423.55 L502.94 422.98 L503.45 422.40 L503.95 421.81 L504.46 421.23 L504.96 420.63 L505.47 420.03 L505.98 419.42 L506.48 418.80 L506.99 418.17 L507.49 417.53 L508.00 416.87 L508.50 416.20 L509.01 415.52 L509.51 414.82 L510.02 414.11 L510.52 413.37 L511.03 412.62 L511.53 411.85 L512.04 411.06 L512.54 410.24 L513.05 409.41 L513.56 408.54 L514.06 407.66 L514.57 406.75 L515.07 405.81 L515.58 404.84 L516.08 403.84 L516.59 402.82 L517.09 401.76 L517.60 400.69 L518.10 399.59 L518.61 398.46 L519.11 397.31 L519.62 396.14 L520.12 394.95 L520.63 393.74 L521.14 392.51 L521.64 391.27 L522.15 390.01 L522.65 388.73 L523.16 387.45 L523.66 386.16 L524.17 384.86 L524.67 383.56 L525.18 382.26 L525.68 380.95 L526.19 379.65 L526.69 378.36 L527.20 377.07 L527.70 375.80 L528.21 374.53 L528.71 373.28 L529.22 372.05 L529.73 370.83 L530.23 369.64 L530.74 368.46 L531.24 367.32 L531.75 366.20 L532.25 365.21 L532.76 364.16 L533.26 363.15 L533.77 362.17 L534.27 361.23 L534.78 360.32 L535.28 359.64 L535.79 359.16 L536.29 358.91 L536.80 358.88 L537.34 359.07 L537.87 359.49 L538.41 360.13 L538.95 361.00 L539.49 362.10 L540.02 363.25 L540.56 364.46 L541.10 365.71 L541.64 367.01 L542.17 368.22 L542.71 369.61 L543.25 371.04 L543.78 372.50 L544.32 373.99 L544.86 375.51 L545.40 377.06 L545.93 378.62 L546.47 380.20 L547.01 381.79 L547.54 383.40 L548.08 385.01 L548.62 386.63 L549.16 388.25 L549.69 389.87 L550.23 391.48 L550.77 393.09 L551.31 394.68 L551.84 396.26 L552.38 397.83 L552.92 399.37 L553.45 400.89 L553.99 402.38 L554.53 403.84 L555.07 405.27 L555.60 406.67 L556.14 408.04 L556.68 409.37 L557.21 410.68 L557.75 411.97 L558.29 413.22 L558.83 414.44 L559.36 415.64 L559.90 416.82 L560.44 417.96 L560.98 419.08 L561.51 420.18 L562.05 421.25 L562.59 422.30 L563.12 423.32 L563.66 424.32 L564.20 425.30 L564.74 426.25 L565.27 427.19 L565.81 428.10 L566.35 428.99 L566.89 429.87 L567.42 430.72 L567.96 431.55 L568.50 432.37 L569.03 433.17 L569.57 433.95 L570.11 434.71 L570.65 435.46 L571.18 436.19 L571.72 436.91 L572.26 437.61 L572.79 438.30 L573.33 438.97 L573.87 439.63 L574.41 440.28 L574.94 440.91 L575.48 441.53 L576.02 442.15 L576.56 442.75 L577.09 443.34 L577.63 443.92 L578.17 444.49 L578.70 445.05 L579.24 445.61 L579.78 446.15 L580.32 446.69 L580.85 447.23 L581.39 447.75 L581.93 448.27 L582.46 448.79 L583.00 449.30 L583.54 449.81 L584.08 450.31 L584.61 450.81 L585.15 451.31 L585.69 451.80 L586.23 452.29 L586.76 452.79 L587.30 453.27 L587.84 453.76 L588.37 454.24 L588.91 454.72 L589.45 455.20 L589.99 455.68 L590.52 456.16 L591.06 456.63 L591.60 457.10 L592.13 457.57 L592.67 458.04 L593.21 458.51 L593.75 458.97 L594.28 459.43 L594.82 459.90 L595.36 460.35 L595.90 460.81 L596.43 461.27 L596.97 461.72 L597.51 462.18 L598.04 462.63 L598.58 463.08 L599.12 463.53 L599.66 463.98 L600.19 464.42 L600.73 464.87 L601.27 465.31 L601.81 465.75 L602.34 466.19 L602.88 466.64 L603.42 467.07 L603.95 467.51 L604.49 467.95 L605.03 468.39 L605.57 468.82 L606.10 469.26 L606.64 469.69 L607.18 470.13 L607.71 470.56 L608.25 470.99 L608.79 471.42 L609.33 471.85 L609.86 472.28 L610.40 472.71 L610.94 473.14 L611.48 473.57 L612.01 474.00 L612.55 474.42 L613.09 474.85 L613.62 475.28 L614.16 475.71 L614.70 476.13 L615.24 476.56 L615.77 476.98 L616.31 477.41 L616.85 477.84 L617.38 478.26 L617.92 478.69 L618.46 479.12 L619.00 479.54 L619.53 479.97 L620.07 480.39 L620.61 480.82 L621.15 481.25 L621.68 481.68 L622.22 482.10 L622.76 482.53 L623.29 482.96 L623.83 483.39 L624.37 483.82 L624.91 484.25 L625.44 484.68 L625.98 485.11 L626.52 485.54 L627.06 485.98 L627.59 486.41 L628.13 486.84 L628.67 487.28 L629.20 487.71 L629.74 488.15 L630.28 488.59 L630.82 489.03 L631.35 489.46 L631.89 489.91 L632.43 490.35 L632.96 490.79 L633.50 491.23 L634.04 491.68 L634.58 492.13 L635.11 492.57 L635.65 493.02 L636.19 493.47 L636.73 493.92 L637.26 494.38 L637.80 494.83 L638.34 495.29 L638.87 495.75 L639.41 496.21 L639.95 496.67 L640.49 497.13 L641.02 497.59 L641.56 498.06 L642.10 498.53 L642.63 499.00 L643.17 499.47 L643.71 499.94 L644.25 500.42 L644.78 500.90 L645.32 501.38 L645.86 501.86 L646.40 502.34 L646.93 502.83 L647.47 503.32 L648.01 503.81 L648.54 504.30 L649.08 504.79 L649.62 505.29 L650.16 505.79 L650.69 506.29 L651.23 506.80 L651.77 507.31 L652.31 507.82 L652.84 508.33 L653.38 508.84 L653.92 509.36 L654.45 509.88 L654.99 510.40 L655.53 510.93 L656.07 511.46 L656.60 511.99 L657.14 512.52 L657.68 513.06 L658.21 513.60 L658.75 514.15 L659.29 514.69 L659.83 515.24 L660.36 515.80 L660.90 516.35 L661.44 516.91 L661.98 517.47 L662.51 518.04 L663.05 518.61 L663.59 519.18 L664.12 519.76 L664.66 520.34 L665.20 520.92 L665.74 521.51 L666.27 522.10 L666.81 522.69 L667.35 523.29 L667.88 523.89 L668.42 524.49 L668.96 525.10 L669.50 525.71 L670.03 526.33 L670.57 526.95" fill="none" stroke="#111" stroke-width="1.9"/>
</g>
<rect x="402.7" y="307.8" width="267.7" height="217" fill="none" stroke="#000" stroke-width="1.5"/>
<path d="M402.7 524.76H407.7M402.7 519.04H407.7M402.7 514.2H407.7M402.7 510.01H407.7M402.7 506.31H407.7M402.7 503H411M402.7 481.24H407.7M402.7 468.5H407.7M402.7 459.47H407.7M402.7 452.46H407.7M402.7 446.74H407.7M402.7 441.9H407.7M402.7 437.71H407.7M402.7 434.01H407.7M402.7 430.7H411M402.7 408.94H407.7M402.7 396.2H407.7M402.7 387.17H407.7M402.7 380.16H407.7M402.7 374.44H407.7M402.7 369.6H407.7M402.7 365.41H407.7M402.7 361.71H407.7M402.7 358.4H411M402.7 336.64H407.7M402.7 323.9H407.7M402.7 314.87H407.7M402.7 307.86H407.7" stroke="#000" stroke-width="1.4" fill="none"/>
<path d="M402.7 524.8V533M447.32 524.8V533M491.93 524.8V533M536.55 524.8V533M581.17 524.8V533M625.78 524.8V533M670.4 524.8V533" stroke="#000" stroke-width="1.4" fill="none"/>
<text x="402.7" y="548.6" text-anchor="middle" class="t">–0.75</text>
<text x="447.32" y="548.6" text-anchor="middle" class="t">–0.50</text>
<text x="491.93" y="548.6" text-anchor="middle" class="t">–0.25</text>
<text x="536.55" y="548.6" text-anchor="middle" class="t">0.00</text>
<text x="581.17" y="548.6" text-anchor="middle" class="t">0.25</text>
<text x="625.78" y="548.6" text-anchor="middle" class="t">0.50</text>
<text x="670.4" y="548.6" text-anchor="middle" class="t">0.75</text>
<text x="536.55" y="566.9" text-anchor="middle" class="t">Time (ps)</text>
<path d="M0.3726 0L0.2847 0L0.2847 0.5601L0.109 0.4595L0.109 0.5444C0.19 0.585 0.27 0.64 0.3076 0.716L0.3726 0.716Z" transform="translate(390.75 362.9) scale(12.5 -12.5)" fill="#000" stroke="#000" stroke-width="0.02"/>
<text x="380.32" y="435.2" class="t">0.</text>
<path d="M0.3726 0L0.2847 0L0.2847 0.5601L0.109 0.4595L0.109 0.5444C0.19 0.585 0.27 0.64 0.3076 0.716L0.3726 0.716Z" transform="translate(390.75 435.2) scale(12.5 -12.5)" fill="#000" stroke="#000" stroke-width="0.02"/>
<text x="373.38" y="507.5" class="t">0.0</text>
<path d="M0.3726 0L0.2847 0L0.2847 0.5601L0.109 0.4595L0.109 0.5444C0.19 0.585 0.27 0.64 0.3076 0.716L0.3726 0.716Z" transform="translate(390.75 507.5) scale(12.5 -12.5)" fill="#000" stroke="#000" stroke-width="0.02"/>
<text transform="translate(363 479.9) rotate(-90)" class="t">Norm. FWM intensity</text>
<text x="353" y="308.1" class="pl">d</text>
<path d="M413.2 321.5H443.2" stroke="#111" stroke-width="1.8"/>
<path d="M413.2 337.8H435.4" stroke="#d61f26" stroke-width="1.9" stroke-dasharray="7 8.1"/>
<path d="M413.2 353.9H435.4" stroke="#1f2388" stroke-width="1.9" stroke-dasharray="7 8.1"/>
<text x="448.5" y="325.5" class="lg">Theory total</text>
<text x="448.1" y="341.3" class="lg">Biexciton</text>
<text x="447.9" y="356.5" class="lg">Exciton</text>
<text x="618.1" y="333.5" class="sg">σ</text>
<text x="624.6" y="329.3" class="sp">−</text>
<text x="628.4" y="333.5" class="sg">σ</text>
<text x="634.9" y="329.3" class="sp">+</text>
<text x="638.7" y="333.5" class="sg">σ</text>
<text x="645.2" y="329.3" class="sp">−</text>
<text x="649" y="333.5" class="sg">σ</text>
<text x="655.5" y="329.3" class="sp">+</text>
<text x="618.5" y="349.1" class="ts">25 Tesla</text>
</svg></body></html>
